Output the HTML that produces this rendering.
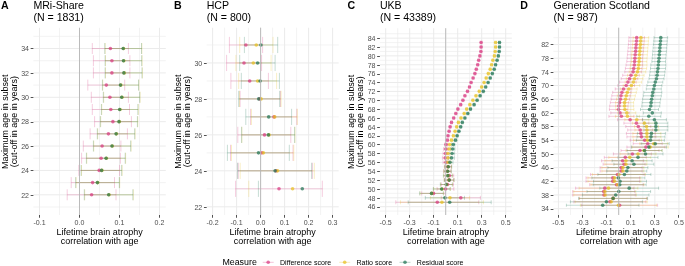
<!DOCTYPE html>
<html><head><meta charset="utf-8"><style>
html,body{margin:0;padding:0;background:#fff;width:685px;height:266px;overflow:hidden}
svg{will-change:transform}
text{font-family:"Liberation Sans", sans-serif}
</style></head><body>
<svg width="685" height="266" viewBox="0 0 685 266" style="position:absolute;left:0;top:0"><rect width="685" height="266" fill="#fff"/><g font-family='"Liberation Sans", sans-serif'><line x1="59.50" y1="27.80" x2="59.50" y2="215.00" stroke="#EBEBEB" stroke-width="0.6"/><line x1="99.50" y1="27.80" x2="99.50" y2="215.00" stroke="#EBEBEB" stroke-width="0.6"/><line x1="139.50" y1="27.80" x2="139.50" y2="215.00" stroke="#EBEBEB" stroke-width="0.6"/><line x1="33.40" y1="206.99" x2="165.80" y2="206.99" stroke="#EBEBEB" stroke-width="0.6"/><line x1="33.40" y1="182.61" x2="165.80" y2="182.61" stroke="#EBEBEB" stroke-width="0.6"/><line x1="33.40" y1="158.23" x2="165.80" y2="158.23" stroke="#EBEBEB" stroke-width="0.6"/><line x1="33.40" y1="133.85" x2="165.80" y2="133.85" stroke="#EBEBEB" stroke-width="0.6"/><line x1="33.40" y1="109.47" x2="165.80" y2="109.47" stroke="#EBEBEB" stroke-width="0.6"/><line x1="33.40" y1="85.09" x2="165.80" y2="85.09" stroke="#EBEBEB" stroke-width="0.6"/><line x1="33.40" y1="60.71" x2="165.80" y2="60.71" stroke="#EBEBEB" stroke-width="0.6"/><line x1="33.40" y1="36.33" x2="165.80" y2="36.33" stroke="#EBEBEB" stroke-width="0.6"/><line x1="39.50" y1="27.80" x2="39.50" y2="215.00" stroke="#EBEBEB" stroke-width="1.0"/><line x1="79.50" y1="27.80" x2="79.50" y2="215.00" stroke="#EBEBEB" stroke-width="1.0"/><line x1="119.50" y1="27.80" x2="119.50" y2="215.00" stroke="#EBEBEB" stroke-width="1.0"/><line x1="159.50" y1="27.80" x2="159.50" y2="215.00" stroke="#EBEBEB" stroke-width="1.0"/><line x1="33.40" y1="194.80" x2="165.80" y2="194.80" stroke="#EBEBEB" stroke-width="1.0"/><line x1="33.40" y1="170.42" x2="165.80" y2="170.42" stroke="#EBEBEB" stroke-width="1.0"/><line x1="33.40" y1="146.04" x2="165.80" y2="146.04" stroke="#EBEBEB" stroke-width="1.0"/><line x1="33.40" y1="121.66" x2="165.80" y2="121.66" stroke="#EBEBEB" stroke-width="1.0"/><line x1="33.40" y1="97.28" x2="165.80" y2="97.28" stroke="#EBEBEB" stroke-width="1.0"/><line x1="33.40" y1="72.90" x2="165.80" y2="72.90" stroke="#EBEBEB" stroke-width="1.0"/><line x1="33.40" y1="48.52" x2="165.80" y2="48.52" stroke="#EBEBEB" stroke-width="1.0"/><line x1="39.50" y1="215.00" x2="39.50" y2="217.75" stroke="#333" stroke-width="0.85"/><text x="39.50" y="224.60" font-size="7.05" fill="#4D4D4D" font-weight="normal" text-anchor="middle">-0.1</text><line x1="79.50" y1="215.00" x2="79.50" y2="217.75" stroke="#333" stroke-width="0.85"/><text x="79.50" y="224.60" font-size="7.05" fill="#4D4D4D" font-weight="normal" text-anchor="middle">0.0</text><line x1="119.50" y1="215.00" x2="119.50" y2="217.75" stroke="#333" stroke-width="0.85"/><text x="119.50" y="224.60" font-size="7.05" fill="#4D4D4D" font-weight="normal" text-anchor="middle">0.1</text><line x1="159.50" y1="215.00" x2="159.50" y2="217.75" stroke="#333" stroke-width="0.85"/><text x="159.50" y="224.60" font-size="7.05" fill="#4D4D4D" font-weight="normal" text-anchor="middle">0.2</text><line x1="30.65" y1="195.50" x2="33.40" y2="195.50" stroke="#333" stroke-width="0.85"/><text x="29.00" y="197.55" font-size="7.05" fill="#4D4D4D" font-weight="normal" text-anchor="end">22</text><line x1="30.65" y1="170.50" x2="33.40" y2="170.50" stroke="#333" stroke-width="0.85"/><text x="29.00" y="173.17" font-size="7.05" fill="#4D4D4D" font-weight="normal" text-anchor="end">24</text><line x1="30.65" y1="146.50" x2="33.40" y2="146.50" stroke="#333" stroke-width="0.85"/><text x="29.00" y="148.79" font-size="7.05" fill="#4D4D4D" font-weight="normal" text-anchor="end">26</text><line x1="30.65" y1="122.50" x2="33.40" y2="122.50" stroke="#333" stroke-width="0.85"/><text x="29.00" y="124.41" font-size="7.05" fill="#4D4D4D" font-weight="normal" text-anchor="end">28</text><line x1="30.65" y1="97.50" x2="33.40" y2="97.50" stroke="#333" stroke-width="0.85"/><text x="29.00" y="100.03" font-size="7.05" fill="#4D4D4D" font-weight="normal" text-anchor="end">30</text><line x1="30.65" y1="73.50" x2="33.40" y2="73.50" stroke="#333" stroke-width="0.85"/><text x="29.00" y="75.65" font-size="7.05" fill="#4D4D4D" font-weight="normal" text-anchor="end">32</text><line x1="30.65" y1="48.50" x2="33.40" y2="48.50" stroke="#333" stroke-width="0.85"/><text x="29.00" y="51.27" font-size="7.05" fill="#4D4D4D" font-weight="normal" text-anchor="end">34</text><text x="1.10" y="9.05" font-size="10.6" fill="#000" font-weight="bold" text-anchor="start">A</text><text x="33.40" y="9.00" font-size="10.6" fill="#000" font-weight="normal" text-anchor="start">MRi-Share</text><text x="33.40" y="20.75" font-size="10.6" fill="#000" font-weight="normal" text-anchor="start">(N = 1831)</text><text x="99.60" y="234.80" font-size="8.98" fill="#000" font-weight="normal" text-anchor="middle">Lifetime brain atrophy</text><text x="99.60" y="244.20" font-size="8.98" fill="#000" font-weight="normal" text-anchor="middle">correlation with age</text><text transform="translate(7.90,121.70) rotate(-90)" font-size="8.95" text-anchor="middle">Maximum age in subset</text><text transform="translate(17.30,121.70) rotate(-90)" font-size="8.95" text-anchor="middle">(cut-off in age in years)</text><line x1="224.60" y1="27.70" x2="224.60" y2="215.00" stroke="#EBEBEB" stroke-width="0.6"/><line x1="248.60" y1="27.70" x2="248.60" y2="215.00" stroke="#EBEBEB" stroke-width="0.6"/><line x1="272.60" y1="27.70" x2="272.60" y2="215.00" stroke="#EBEBEB" stroke-width="0.6"/><line x1="296.60" y1="27.70" x2="296.60" y2="215.00" stroke="#EBEBEB" stroke-width="0.6"/><line x1="320.60" y1="27.70" x2="320.60" y2="215.00" stroke="#EBEBEB" stroke-width="0.6"/><line x1="206.70" y1="188.82" x2="338.70" y2="188.82" stroke="#EBEBEB" stroke-width="0.6"/><line x1="206.70" y1="152.86" x2="338.70" y2="152.86" stroke="#EBEBEB" stroke-width="0.6"/><line x1="206.70" y1="116.90" x2="338.70" y2="116.90" stroke="#EBEBEB" stroke-width="0.6"/><line x1="206.70" y1="80.94" x2="338.70" y2="80.94" stroke="#EBEBEB" stroke-width="0.6"/><line x1="206.70" y1="44.98" x2="338.70" y2="44.98" stroke="#EBEBEB" stroke-width="0.6"/><line x1="212.60" y1="27.70" x2="212.60" y2="215.00" stroke="#EBEBEB" stroke-width="1.0"/><line x1="236.60" y1="27.70" x2="236.60" y2="215.00" stroke="#EBEBEB" stroke-width="1.0"/><line x1="260.60" y1="27.70" x2="260.60" y2="215.00" stroke="#EBEBEB" stroke-width="1.0"/><line x1="284.60" y1="27.70" x2="284.60" y2="215.00" stroke="#EBEBEB" stroke-width="1.0"/><line x1="308.60" y1="27.70" x2="308.60" y2="215.00" stroke="#EBEBEB" stroke-width="1.0"/><line x1="332.60" y1="27.70" x2="332.60" y2="215.00" stroke="#EBEBEB" stroke-width="1.0"/><line x1="206.70" y1="206.80" x2="338.70" y2="206.80" stroke="#EBEBEB" stroke-width="1.0"/><line x1="206.70" y1="170.84" x2="338.70" y2="170.84" stroke="#EBEBEB" stroke-width="1.0"/><line x1="206.70" y1="134.88" x2="338.70" y2="134.88" stroke="#EBEBEB" stroke-width="1.0"/><line x1="206.70" y1="98.92" x2="338.70" y2="98.92" stroke="#EBEBEB" stroke-width="1.0"/><line x1="206.70" y1="62.96" x2="338.70" y2="62.96" stroke="#EBEBEB" stroke-width="1.0"/><line x1="212.50" y1="215.00" x2="212.50" y2="217.75" stroke="#333" stroke-width="0.85"/><text x="212.60" y="224.60" font-size="7.05" fill="#4D4D4D" font-weight="normal" text-anchor="middle">-0.2</text><line x1="236.50" y1="215.00" x2="236.50" y2="217.75" stroke="#333" stroke-width="0.85"/><text x="236.60" y="224.60" font-size="7.05" fill="#4D4D4D" font-weight="normal" text-anchor="middle">-0.1</text><line x1="260.50" y1="215.00" x2="260.50" y2="217.75" stroke="#333" stroke-width="0.85"/><text x="260.60" y="224.60" font-size="7.05" fill="#4D4D4D" font-weight="normal" text-anchor="middle">0.0</text><line x1="284.50" y1="215.00" x2="284.50" y2="217.75" stroke="#333" stroke-width="0.85"/><text x="284.60" y="224.60" font-size="7.05" fill="#4D4D4D" font-weight="normal" text-anchor="middle">0.1</text><line x1="308.50" y1="215.00" x2="308.50" y2="217.75" stroke="#333" stroke-width="0.85"/><text x="308.60" y="224.60" font-size="7.05" fill="#4D4D4D" font-weight="normal" text-anchor="middle">0.2</text><line x1="332.50" y1="215.00" x2="332.50" y2="217.75" stroke="#333" stroke-width="0.85"/><text x="332.60" y="224.60" font-size="7.05" fill="#4D4D4D" font-weight="normal" text-anchor="middle">0.3</text><line x1="203.95" y1="207.50" x2="206.70" y2="207.50" stroke="#333" stroke-width="0.85"/><text x="202.30" y="209.55" font-size="7.05" fill="#4D4D4D" font-weight="normal" text-anchor="end">22</text><line x1="203.95" y1="171.50" x2="206.70" y2="171.50" stroke="#333" stroke-width="0.85"/><text x="202.30" y="173.59" font-size="7.05" fill="#4D4D4D" font-weight="normal" text-anchor="end">24</text><line x1="203.95" y1="135.50" x2="206.70" y2="135.50" stroke="#333" stroke-width="0.85"/><text x="202.30" y="137.63" font-size="7.05" fill="#4D4D4D" font-weight="normal" text-anchor="end">26</text><line x1="203.95" y1="99.50" x2="206.70" y2="99.50" stroke="#333" stroke-width="0.85"/><text x="202.30" y="101.67" font-size="7.05" fill="#4D4D4D" font-weight="normal" text-anchor="end">28</text><line x1="203.95" y1="63.50" x2="206.70" y2="63.50" stroke="#333" stroke-width="0.85"/><text x="202.30" y="65.71" font-size="7.05" fill="#4D4D4D" font-weight="normal" text-anchor="end">30</text><text x="174.10" y="9.05" font-size="10.6" fill="#000" font-weight="bold" text-anchor="start">B</text><text x="206.70" y="9.00" font-size="10.6" fill="#000" font-weight="normal" text-anchor="start">HCP</text><text x="206.70" y="20.75" font-size="10.6" fill="#000" font-weight="normal" text-anchor="start">(N = 800)</text><text x="272.70" y="234.80" font-size="8.98" fill="#000" font-weight="normal" text-anchor="middle">Lifetime brain atrophy</text><text x="272.70" y="244.20" font-size="8.98" fill="#000" font-weight="normal" text-anchor="middle">correlation with age</text><text transform="translate(180.90,121.65) rotate(-90)" font-size="8.95" text-anchor="middle">Maximum age in subset</text><text transform="translate(190.30,121.65) rotate(-90)" font-size="8.95" text-anchor="middle">(cut-off in age in years)</text><line x1="397.70" y1="28.20" x2="397.70" y2="215.00" stroke="#EBEBEB" stroke-width="0.6"/><line x1="421.70" y1="28.20" x2="421.70" y2="215.00" stroke="#EBEBEB" stroke-width="0.6"/><line x1="445.70" y1="28.20" x2="445.70" y2="215.00" stroke="#EBEBEB" stroke-width="0.6"/><line x1="469.70" y1="28.20" x2="469.70" y2="215.00" stroke="#EBEBEB" stroke-width="0.6"/><line x1="493.70" y1="28.20" x2="493.70" y2="215.00" stroke="#EBEBEB" stroke-width="0.6"/><line x1="379.90" y1="211.14" x2="511.90" y2="211.14" stroke="#EBEBEB" stroke-width="0.6"/><line x1="379.90" y1="202.26" x2="511.90" y2="202.26" stroke="#EBEBEB" stroke-width="0.6"/><line x1="379.90" y1="193.39" x2="511.90" y2="193.39" stroke="#EBEBEB" stroke-width="0.6"/><line x1="379.90" y1="184.52" x2="511.90" y2="184.52" stroke="#EBEBEB" stroke-width="0.6"/><line x1="379.90" y1="175.65" x2="511.90" y2="175.65" stroke="#EBEBEB" stroke-width="0.6"/><line x1="379.90" y1="166.78" x2="511.90" y2="166.78" stroke="#EBEBEB" stroke-width="0.6"/><line x1="379.90" y1="157.90" x2="511.90" y2="157.90" stroke="#EBEBEB" stroke-width="0.6"/><line x1="379.90" y1="149.03" x2="511.90" y2="149.03" stroke="#EBEBEB" stroke-width="0.6"/><line x1="379.90" y1="140.16" x2="511.90" y2="140.16" stroke="#EBEBEB" stroke-width="0.6"/><line x1="379.90" y1="131.29" x2="511.90" y2="131.29" stroke="#EBEBEB" stroke-width="0.6"/><line x1="379.90" y1="122.42" x2="511.90" y2="122.42" stroke="#EBEBEB" stroke-width="0.6"/><line x1="379.90" y1="113.54" x2="511.90" y2="113.54" stroke="#EBEBEB" stroke-width="0.6"/><line x1="379.90" y1="104.67" x2="511.90" y2="104.67" stroke="#EBEBEB" stroke-width="0.6"/><line x1="379.90" y1="95.80" x2="511.90" y2="95.80" stroke="#EBEBEB" stroke-width="0.6"/><line x1="379.90" y1="86.93" x2="511.90" y2="86.93" stroke="#EBEBEB" stroke-width="0.6"/><line x1="379.90" y1="78.06" x2="511.90" y2="78.06" stroke="#EBEBEB" stroke-width="0.6"/><line x1="379.90" y1="69.18" x2="511.90" y2="69.18" stroke="#EBEBEB" stroke-width="0.6"/><line x1="379.90" y1="60.31" x2="511.90" y2="60.31" stroke="#EBEBEB" stroke-width="0.6"/><line x1="379.90" y1="51.44" x2="511.90" y2="51.44" stroke="#EBEBEB" stroke-width="0.6"/><line x1="379.90" y1="42.57" x2="511.90" y2="42.57" stroke="#EBEBEB" stroke-width="0.6"/><line x1="379.90" y1="33.70" x2="511.90" y2="33.70" stroke="#EBEBEB" stroke-width="0.6"/><line x1="385.70" y1="28.20" x2="385.70" y2="215.00" stroke="#EBEBEB" stroke-width="1.0"/><line x1="409.70" y1="28.20" x2="409.70" y2="215.00" stroke="#EBEBEB" stroke-width="1.0"/><line x1="433.70" y1="28.20" x2="433.70" y2="215.00" stroke="#EBEBEB" stroke-width="1.0"/><line x1="457.70" y1="28.20" x2="457.70" y2="215.00" stroke="#EBEBEB" stroke-width="1.0"/><line x1="481.70" y1="28.20" x2="481.70" y2="215.00" stroke="#EBEBEB" stroke-width="1.0"/><line x1="505.70" y1="28.20" x2="505.70" y2="215.00" stroke="#EBEBEB" stroke-width="1.0"/><line x1="379.90" y1="206.70" x2="511.90" y2="206.70" stroke="#EBEBEB" stroke-width="1.0"/><line x1="379.90" y1="197.83" x2="511.90" y2="197.83" stroke="#EBEBEB" stroke-width="1.0"/><line x1="379.90" y1="188.96" x2="511.90" y2="188.96" stroke="#EBEBEB" stroke-width="1.0"/><line x1="379.90" y1="180.08" x2="511.90" y2="180.08" stroke="#EBEBEB" stroke-width="1.0"/><line x1="379.90" y1="171.21" x2="511.90" y2="171.21" stroke="#EBEBEB" stroke-width="1.0"/><line x1="379.90" y1="162.34" x2="511.90" y2="162.34" stroke="#EBEBEB" stroke-width="1.0"/><line x1="379.90" y1="153.47" x2="511.90" y2="153.47" stroke="#EBEBEB" stroke-width="1.0"/><line x1="379.90" y1="144.60" x2="511.90" y2="144.60" stroke="#EBEBEB" stroke-width="1.0"/><line x1="379.90" y1="135.72" x2="511.90" y2="135.72" stroke="#EBEBEB" stroke-width="1.0"/><line x1="379.90" y1="126.85" x2="511.90" y2="126.85" stroke="#EBEBEB" stroke-width="1.0"/><line x1="379.90" y1="117.98" x2="511.90" y2="117.98" stroke="#EBEBEB" stroke-width="1.0"/><line x1="379.90" y1="109.11" x2="511.90" y2="109.11" stroke="#EBEBEB" stroke-width="1.0"/><line x1="379.90" y1="100.24" x2="511.90" y2="100.24" stroke="#EBEBEB" stroke-width="1.0"/><line x1="379.90" y1="91.36" x2="511.90" y2="91.36" stroke="#EBEBEB" stroke-width="1.0"/><line x1="379.90" y1="82.49" x2="511.90" y2="82.49" stroke="#EBEBEB" stroke-width="1.0"/><line x1="379.90" y1="73.62" x2="511.90" y2="73.62" stroke="#EBEBEB" stroke-width="1.0"/><line x1="379.90" y1="64.75" x2="511.90" y2="64.75" stroke="#EBEBEB" stroke-width="1.0"/><line x1="379.90" y1="55.88" x2="511.90" y2="55.88" stroke="#EBEBEB" stroke-width="1.0"/><line x1="379.90" y1="47.00" x2="511.90" y2="47.00" stroke="#EBEBEB" stroke-width="1.0"/><line x1="379.90" y1="38.13" x2="511.90" y2="38.13" stroke="#EBEBEB" stroke-width="1.0"/><line x1="385.50" y1="215.00" x2="385.50" y2="217.75" stroke="#333" stroke-width="0.85"/><text x="385.70" y="224.60" font-size="7.05" fill="#4D4D4D" font-weight="normal" text-anchor="middle">-0.5</text><line x1="409.50" y1="215.00" x2="409.50" y2="217.75" stroke="#333" stroke-width="0.85"/><text x="409.70" y="224.60" font-size="7.05" fill="#4D4D4D" font-weight="normal" text-anchor="middle">-0.3</text><line x1="433.50" y1="215.00" x2="433.50" y2="217.75" stroke="#333" stroke-width="0.85"/><text x="433.70" y="224.60" font-size="7.05" fill="#4D4D4D" font-weight="normal" text-anchor="middle">-0.1</text><line x1="457.50" y1="215.00" x2="457.50" y2="217.75" stroke="#333" stroke-width="0.85"/><text x="457.70" y="224.60" font-size="7.05" fill="#4D4D4D" font-weight="normal" text-anchor="middle">0.1</text><line x1="481.50" y1="215.00" x2="481.50" y2="217.75" stroke="#333" stroke-width="0.85"/><text x="481.70" y="224.60" font-size="7.05" fill="#4D4D4D" font-weight="normal" text-anchor="middle">0.3</text><line x1="505.50" y1="215.00" x2="505.50" y2="217.75" stroke="#333" stroke-width="0.85"/><text x="505.70" y="224.60" font-size="7.05" fill="#4D4D4D" font-weight="normal" text-anchor="middle">0.5</text><line x1="377.15" y1="207.50" x2="379.90" y2="207.50" stroke="#333" stroke-width="0.85"/><text x="375.50" y="209.45" font-size="7.05" fill="#4D4D4D" font-weight="normal" text-anchor="end">46</text><line x1="377.15" y1="198.50" x2="379.90" y2="198.50" stroke="#333" stroke-width="0.85"/><text x="375.50" y="200.58" font-size="7.05" fill="#4D4D4D" font-weight="normal" text-anchor="end">48</text><line x1="377.15" y1="189.50" x2="379.90" y2="189.50" stroke="#333" stroke-width="0.85"/><text x="375.50" y="191.71" font-size="7.05" fill="#4D4D4D" font-weight="normal" text-anchor="end">50</text><line x1="377.15" y1="180.50" x2="379.90" y2="180.50" stroke="#333" stroke-width="0.85"/><text x="375.50" y="182.83" font-size="7.05" fill="#4D4D4D" font-weight="normal" text-anchor="end">52</text><line x1="377.15" y1="171.50" x2="379.90" y2="171.50" stroke="#333" stroke-width="0.85"/><text x="375.50" y="173.96" font-size="7.05" fill="#4D4D4D" font-weight="normal" text-anchor="end">54</text><line x1="377.15" y1="162.50" x2="379.90" y2="162.50" stroke="#333" stroke-width="0.85"/><text x="375.50" y="165.09" font-size="7.05" fill="#4D4D4D" font-weight="normal" text-anchor="end">56</text><line x1="377.15" y1="153.50" x2="379.90" y2="153.50" stroke="#333" stroke-width="0.85"/><text x="375.50" y="156.22" font-size="7.05" fill="#4D4D4D" font-weight="normal" text-anchor="end">58</text><line x1="377.15" y1="144.50" x2="379.90" y2="144.50" stroke="#333" stroke-width="0.85"/><text x="375.50" y="147.35" font-size="7.05" fill="#4D4D4D" font-weight="normal" text-anchor="end">60</text><line x1="377.15" y1="136.50" x2="379.90" y2="136.50" stroke="#333" stroke-width="0.85"/><text x="375.50" y="138.47" font-size="7.05" fill="#4D4D4D" font-weight="normal" text-anchor="end">62</text><line x1="377.15" y1="127.50" x2="379.90" y2="127.50" stroke="#333" stroke-width="0.85"/><text x="375.50" y="129.60" font-size="7.05" fill="#4D4D4D" font-weight="normal" text-anchor="end">64</text><line x1="377.15" y1="118.50" x2="379.90" y2="118.50" stroke="#333" stroke-width="0.85"/><text x="375.50" y="120.73" font-size="7.05" fill="#4D4D4D" font-weight="normal" text-anchor="end">66</text><line x1="377.15" y1="109.50" x2="379.90" y2="109.50" stroke="#333" stroke-width="0.85"/><text x="375.50" y="111.86" font-size="7.05" fill="#4D4D4D" font-weight="normal" text-anchor="end">68</text><line x1="377.15" y1="100.50" x2="379.90" y2="100.50" stroke="#333" stroke-width="0.85"/><text x="375.50" y="102.99" font-size="7.05" fill="#4D4D4D" font-weight="normal" text-anchor="end">70</text><line x1="377.15" y1="91.50" x2="379.90" y2="91.50" stroke="#333" stroke-width="0.85"/><text x="375.50" y="94.11" font-size="7.05" fill="#4D4D4D" font-weight="normal" text-anchor="end">72</text><line x1="377.15" y1="82.50" x2="379.90" y2="82.50" stroke="#333" stroke-width="0.85"/><text x="375.50" y="85.24" font-size="7.05" fill="#4D4D4D" font-weight="normal" text-anchor="end">74</text><line x1="377.15" y1="74.50" x2="379.90" y2="74.50" stroke="#333" stroke-width="0.85"/><text x="375.50" y="76.37" font-size="7.05" fill="#4D4D4D" font-weight="normal" text-anchor="end">76</text><line x1="377.15" y1="65.50" x2="379.90" y2="65.50" stroke="#333" stroke-width="0.85"/><text x="375.50" y="67.50" font-size="7.05" fill="#4D4D4D" font-weight="normal" text-anchor="end">78</text><line x1="377.15" y1="56.50" x2="379.90" y2="56.50" stroke="#333" stroke-width="0.85"/><text x="375.50" y="58.63" font-size="7.05" fill="#4D4D4D" font-weight="normal" text-anchor="end">80</text><line x1="377.15" y1="47.50" x2="379.90" y2="47.50" stroke="#333" stroke-width="0.85"/><text x="375.50" y="49.75" font-size="7.05" fill="#4D4D4D" font-weight="normal" text-anchor="end">82</text><line x1="377.15" y1="38.50" x2="379.90" y2="38.50" stroke="#333" stroke-width="0.85"/><text x="375.50" y="40.88" font-size="7.05" fill="#4D4D4D" font-weight="normal" text-anchor="end">84</text><text x="347.40" y="9.05" font-size="10.6" fill="#000" font-weight="bold" text-anchor="start">C</text><text x="379.90" y="9.00" font-size="10.6" fill="#000" font-weight="normal" text-anchor="start">UKB</text><text x="379.90" y="20.75" font-size="10.6" fill="#000" font-weight="normal" text-anchor="start">(N = 43389)</text><text x="445.90" y="234.80" font-size="8.98" fill="#000" font-weight="normal" text-anchor="middle">Lifetime brain atrophy</text><text x="445.90" y="244.20" font-size="8.98" fill="#000" font-weight="normal" text-anchor="middle">correlation with age</text><text transform="translate(353.60,121.90) rotate(-90)" font-size="8.95" text-anchor="middle">Maximum age in subset</text><text transform="translate(363.00,121.90) rotate(-90)" font-size="8.95" text-anchor="middle">(cut-off in age in years)</text><line x1="570.50" y1="27.70" x2="570.50" y2="215.00" stroke="#EBEBEB" stroke-width="0.6"/><line x1="594.60" y1="27.70" x2="594.60" y2="215.00" stroke="#EBEBEB" stroke-width="0.6"/><line x1="618.70" y1="27.70" x2="618.70" y2="215.00" stroke="#EBEBEB" stroke-width="0.6"/><line x1="642.80" y1="27.70" x2="642.80" y2="215.00" stroke="#EBEBEB" stroke-width="0.6"/><line x1="666.90" y1="27.70" x2="666.90" y2="215.00" stroke="#EBEBEB" stroke-width="0.6"/><line x1="553.40" y1="201.82" x2="684.60" y2="201.82" stroke="#EBEBEB" stroke-width="0.6"/><line x1="553.40" y1="188.14" x2="684.60" y2="188.14" stroke="#EBEBEB" stroke-width="0.6"/><line x1="553.40" y1="174.46" x2="684.60" y2="174.46" stroke="#EBEBEB" stroke-width="0.6"/><line x1="553.40" y1="160.78" x2="684.60" y2="160.78" stroke="#EBEBEB" stroke-width="0.6"/><line x1="553.40" y1="147.10" x2="684.60" y2="147.10" stroke="#EBEBEB" stroke-width="0.6"/><line x1="553.40" y1="133.42" x2="684.60" y2="133.42" stroke="#EBEBEB" stroke-width="0.6"/><line x1="553.40" y1="119.74" x2="684.60" y2="119.74" stroke="#EBEBEB" stroke-width="0.6"/><line x1="553.40" y1="106.06" x2="684.60" y2="106.06" stroke="#EBEBEB" stroke-width="0.6"/><line x1="553.40" y1="92.38" x2="684.60" y2="92.38" stroke="#EBEBEB" stroke-width="0.6"/><line x1="553.40" y1="78.70" x2="684.60" y2="78.70" stroke="#EBEBEB" stroke-width="0.6"/><line x1="553.40" y1="65.02" x2="684.60" y2="65.02" stroke="#EBEBEB" stroke-width="0.6"/><line x1="553.40" y1="51.34" x2="684.60" y2="51.34" stroke="#EBEBEB" stroke-width="0.6"/><line x1="553.40" y1="37.66" x2="684.60" y2="37.66" stroke="#EBEBEB" stroke-width="0.6"/><line x1="558.45" y1="27.70" x2="558.45" y2="215.00" stroke="#EBEBEB" stroke-width="1.0"/><line x1="582.55" y1="27.70" x2="582.55" y2="215.00" stroke="#EBEBEB" stroke-width="1.0"/><line x1="606.65" y1="27.70" x2="606.65" y2="215.00" stroke="#EBEBEB" stroke-width="1.0"/><line x1="630.75" y1="27.70" x2="630.75" y2="215.00" stroke="#EBEBEB" stroke-width="1.0"/><line x1="654.85" y1="27.70" x2="654.85" y2="215.00" stroke="#EBEBEB" stroke-width="1.0"/><line x1="678.95" y1="27.70" x2="678.95" y2="215.00" stroke="#EBEBEB" stroke-width="1.0"/><line x1="553.40" y1="208.66" x2="684.60" y2="208.66" stroke="#EBEBEB" stroke-width="1.0"/><line x1="553.40" y1="194.98" x2="684.60" y2="194.98" stroke="#EBEBEB" stroke-width="1.0"/><line x1="553.40" y1="181.30" x2="684.60" y2="181.30" stroke="#EBEBEB" stroke-width="1.0"/><line x1="553.40" y1="167.62" x2="684.60" y2="167.62" stroke="#EBEBEB" stroke-width="1.0"/><line x1="553.40" y1="153.94" x2="684.60" y2="153.94" stroke="#EBEBEB" stroke-width="1.0"/><line x1="553.40" y1="140.26" x2="684.60" y2="140.26" stroke="#EBEBEB" stroke-width="1.0"/><line x1="553.40" y1="126.58" x2="684.60" y2="126.58" stroke="#EBEBEB" stroke-width="1.0"/><line x1="553.40" y1="112.90" x2="684.60" y2="112.90" stroke="#EBEBEB" stroke-width="1.0"/><line x1="553.40" y1="99.22" x2="684.60" y2="99.22" stroke="#EBEBEB" stroke-width="1.0"/><line x1="553.40" y1="85.54" x2="684.60" y2="85.54" stroke="#EBEBEB" stroke-width="1.0"/><line x1="553.40" y1="71.86" x2="684.60" y2="71.86" stroke="#EBEBEB" stroke-width="1.0"/><line x1="553.40" y1="58.18" x2="684.60" y2="58.18" stroke="#EBEBEB" stroke-width="1.0"/><line x1="553.40" y1="44.50" x2="684.60" y2="44.50" stroke="#EBEBEB" stroke-width="1.0"/><line x1="558.50" y1="215.00" x2="558.50" y2="217.75" stroke="#333" stroke-width="0.85"/><text x="558.45" y="224.60" font-size="7.05" fill="#4D4D4D" font-weight="normal" text-anchor="middle">-0.5</text><line x1="582.50" y1="215.00" x2="582.50" y2="217.75" stroke="#333" stroke-width="0.85"/><text x="582.55" y="224.60" font-size="7.05" fill="#4D4D4D" font-weight="normal" text-anchor="middle">-0.3</text><line x1="606.50" y1="215.00" x2="606.50" y2="217.75" stroke="#333" stroke-width="0.85"/><text x="606.65" y="224.60" font-size="7.05" fill="#4D4D4D" font-weight="normal" text-anchor="middle">-0.1</text><line x1="630.50" y1="215.00" x2="630.50" y2="217.75" stroke="#333" stroke-width="0.85"/><text x="630.75" y="224.60" font-size="7.05" fill="#4D4D4D" font-weight="normal" text-anchor="middle">0.1</text><line x1="654.50" y1="215.00" x2="654.50" y2="217.75" stroke="#333" stroke-width="0.85"/><text x="654.85" y="224.60" font-size="7.05" fill="#4D4D4D" font-weight="normal" text-anchor="middle">0.3</text><line x1="678.50" y1="215.00" x2="678.50" y2="217.75" stroke="#333" stroke-width="0.85"/><text x="678.95" y="224.60" font-size="7.05" fill="#4D4D4D" font-weight="normal" text-anchor="middle">0.5</text><line x1="550.65" y1="209.50" x2="553.40" y2="209.50" stroke="#333" stroke-width="0.85"/><text x="549.00" y="211.41" font-size="7.05" fill="#4D4D4D" font-weight="normal" text-anchor="end">34</text><line x1="550.65" y1="195.50" x2="553.40" y2="195.50" stroke="#333" stroke-width="0.85"/><text x="549.00" y="197.73" font-size="7.05" fill="#4D4D4D" font-weight="normal" text-anchor="end">38</text><line x1="550.65" y1="181.50" x2="553.40" y2="181.50" stroke="#333" stroke-width="0.85"/><text x="549.00" y="184.05" font-size="7.05" fill="#4D4D4D" font-weight="normal" text-anchor="end">42</text><line x1="550.65" y1="168.50" x2="553.40" y2="168.50" stroke="#333" stroke-width="0.85"/><text x="549.00" y="170.37" font-size="7.05" fill="#4D4D4D" font-weight="normal" text-anchor="end">46</text><line x1="550.65" y1="154.50" x2="553.40" y2="154.50" stroke="#333" stroke-width="0.85"/><text x="549.00" y="156.69" font-size="7.05" fill="#4D4D4D" font-weight="normal" text-anchor="end">50</text><line x1="550.65" y1="140.50" x2="553.40" y2="140.50" stroke="#333" stroke-width="0.85"/><text x="549.00" y="143.01" font-size="7.05" fill="#4D4D4D" font-weight="normal" text-anchor="end">54</text><line x1="550.65" y1="126.50" x2="553.40" y2="126.50" stroke="#333" stroke-width="0.85"/><text x="549.00" y="129.33" font-size="7.05" fill="#4D4D4D" font-weight="normal" text-anchor="end">58</text><line x1="550.65" y1="113.50" x2="553.40" y2="113.50" stroke="#333" stroke-width="0.85"/><text x="549.00" y="115.65" font-size="7.05" fill="#4D4D4D" font-weight="normal" text-anchor="end">62</text><line x1="550.65" y1="99.50" x2="553.40" y2="99.50" stroke="#333" stroke-width="0.85"/><text x="549.00" y="101.97" font-size="7.05" fill="#4D4D4D" font-weight="normal" text-anchor="end">66</text><line x1="550.65" y1="85.50" x2="553.40" y2="85.50" stroke="#333" stroke-width="0.85"/><text x="549.00" y="88.29" font-size="7.05" fill="#4D4D4D" font-weight="normal" text-anchor="end">70</text><line x1="550.65" y1="72.50" x2="553.40" y2="72.50" stroke="#333" stroke-width="0.85"/><text x="549.00" y="74.61" font-size="7.05" fill="#4D4D4D" font-weight="normal" text-anchor="end">74</text><line x1="550.65" y1="58.50" x2="553.40" y2="58.50" stroke="#333" stroke-width="0.85"/><text x="549.00" y="60.93" font-size="7.05" fill="#4D4D4D" font-weight="normal" text-anchor="end">78</text><line x1="550.65" y1="44.50" x2="553.40" y2="44.50" stroke="#333" stroke-width="0.85"/><text x="549.00" y="47.25" font-size="7.05" fill="#4D4D4D" font-weight="normal" text-anchor="end">82</text><text x="520.30" y="9.05" font-size="10.6" fill="#000" font-weight="bold" text-anchor="start">D</text><text x="553.40" y="9.00" font-size="10.6" fill="#000" font-weight="normal" text-anchor="start">Generation Scotland</text><text x="553.40" y="20.75" font-size="10.6" fill="#000" font-weight="normal" text-anchor="start">(N = 987)</text><text x="619.00" y="234.80" font-size="8.98" fill="#000" font-weight="normal" text-anchor="middle">Lifetime brain atrophy</text><text x="619.00" y="244.20" font-size="8.98" fill="#000" font-weight="normal" text-anchor="middle">correlation with age</text><text transform="translate(526.60,121.65) rotate(-90)" font-size="8.95" text-anchor="middle">Maximum age in subset</text><text transform="translate(536.00,121.65) rotate(-90)" font-size="8.95" text-anchor="middle">(cut-off in age in years)</text><g><g stroke="#D8337E" stroke-opacity="0.33" stroke-width="0.75" fill="none"><path d="M92.30 48.52H128.40"/><path d="M92.30 43.03V54.01"/><path d="M128.40 43.03V54.01"/><path d="M93.40 60.71H129.90"/><path d="M93.40 55.22V66.20"/><path d="M129.90 55.22V66.20"/><path d="M93.40 72.90H129.90"/><path d="M93.40 67.41V78.39"/><path d="M129.90 67.41V78.39"/><path d="M87.80 85.09H124.70"/><path d="M87.80 79.60V90.58"/><path d="M124.70 79.60V90.58"/><path d="M91.30 97.28H128.40"/><path d="M91.30 91.79V102.77"/><path d="M128.40 91.79V102.77"/><path d="M92.30 109.47H129.50"/><path d="M92.30 103.98V114.96"/><path d="M129.50 103.98V114.96"/><path d="M94.60 121.66H131.40"/><path d="M94.60 116.17V127.15"/><path d="M131.40 116.17V127.15"/><path d="M90.10 133.85H127.40"/><path d="M90.10 128.36V139.34"/><path d="M127.40 128.36V139.34"/><path d="M83.30 146.04H120.90"/><path d="M83.30 140.55V151.53"/><path d="M120.90 140.55V151.53"/><path d="M81.60 158.23H120.40"/><path d="M81.60 152.74V163.72"/><path d="M120.40 152.74V163.72"/><path d="M78.90 170.42H119.60"/><path d="M78.90 164.93V175.91"/><path d="M119.60 164.93V175.91"/><path d="M71.20 182.61H114.50"/><path d="M71.20 177.12V188.10"/><path d="M114.50 177.12V188.10"/><path d="M67.20 194.80H116.00"/><path d="M67.20 189.31V200.29"/><path d="M116.00 189.31V200.29"/></g><g stroke="#E7BF1A" stroke-opacity="0.33" stroke-width="0.75" fill="none"><path d="M105.20 48.52H141.90"/><path d="M105.20 43.03V54.01"/><path d="M141.90 43.03V54.01"/><path d="M105.50 60.71H142.10"/><path d="M105.50 55.22V66.20"/><path d="M142.10 55.22V66.20"/><path d="M105.50 72.90H142.40"/><path d="M105.50 67.41V78.39"/><path d="M142.40 67.41V78.39"/><path d="M102.80 85.09H138.90"/><path d="M102.80 79.60V90.58"/><path d="M138.90 79.60V90.58"/><path d="M103.70 97.28H140.10"/><path d="M103.70 91.79V102.77"/><path d="M140.10 91.79V102.77"/><path d="M101.80 109.47H138.30"/><path d="M101.80 103.98V114.96"/><path d="M138.30 103.98V114.96"/><path d="M100.70 121.66H137.80"/><path d="M100.70 116.17V127.15"/><path d="M137.80 116.17V127.15"/><path d="M97.70 133.85H135.10"/><path d="M97.70 128.36V139.34"/><path d="M135.10 128.36V139.34"/><path d="M93.80 146.04H131.10"/><path d="M93.80 140.55V151.53"/><path d="M131.10 140.55V151.53"/><path d="M86.80 158.23H125.60"/><path d="M86.80 152.74V163.72"/><path d="M125.60 152.74V163.72"/><path d="M81.50 170.42H122.10"/><path d="M81.50 164.93V175.91"/><path d="M122.10 164.93V175.91"/><path d="M76.10 182.61H119.70"/><path d="M76.10 177.12V188.10"/><path d="M119.70 177.12V188.10"/><path d="M84.70 194.80H133.30"/><path d="M84.70 189.31V200.29"/><path d="M133.30 189.31V200.29"/></g><g stroke="#1A704F" stroke-opacity="0.33" stroke-width="0.75" fill="none"><path d="M104.80 48.52H141.50"/><path d="M104.80 43.03V54.01"/><path d="M141.50 43.03V54.01"/><path d="M105.10 60.71H141.70"/><path d="M105.10 55.22V66.20"/><path d="M141.70 55.22V66.20"/><path d="M105.10 72.90H142.00"/><path d="M105.10 67.41V78.39"/><path d="M142.00 67.41V78.39"/><path d="M102.40 85.09H138.50"/><path d="M102.40 79.60V90.58"/><path d="M138.50 79.60V90.58"/><path d="M103.30 97.28H139.70"/><path d="M103.30 91.79V102.77"/><path d="M139.70 91.79V102.77"/><path d="M101.40 109.47H137.90"/><path d="M101.40 103.98V114.96"/><path d="M137.90 103.98V114.96"/><path d="M100.30 121.66H137.40"/><path d="M100.30 116.17V127.15"/><path d="M137.40 116.17V127.15"/><path d="M97.30 133.85H134.70"/><path d="M97.30 128.36V139.34"/><path d="M134.70 128.36V139.34"/><path d="M93.40 146.04H130.70"/><path d="M93.40 140.55V151.53"/><path d="M130.70 140.55V151.53"/><path d="M86.40 158.23H125.20"/><path d="M86.40 152.74V163.72"/><path d="M125.20 152.74V163.72"/><path d="M81.10 170.42H121.70"/><path d="M81.10 164.93V175.91"/><path d="M121.70 164.93V175.91"/><path d="M75.70 182.61H119.30"/><path d="M75.70 177.12V188.10"/><path d="M119.30 177.12V188.10"/><path d="M84.30 194.80H132.90"/><path d="M84.30 189.31V200.29"/><path d="M132.90 189.31V200.29"/></g><g fill="#D8337E" fill-opacity="0.7"><circle cx="110.40" cy="48.52" r="1.8"/><circle cx="111.90" cy="60.71" r="1.8"/><circle cx="111.90" cy="72.90" r="1.8"/><circle cx="106.30" cy="85.09" r="1.8"/><circle cx="109.90" cy="97.28" r="1.8"/><circle cx="110.80" cy="109.47" r="1.8"/><circle cx="112.90" cy="121.66" r="1.8"/><circle cx="108.40" cy="133.85" r="1.8"/><circle cx="102.10" cy="146.04" r="1.8"/><circle cx="101.10" cy="158.23" r="1.8"/><circle cx="99.20" cy="170.42" r="1.8"/><circle cx="92.60" cy="182.61" r="1.8"/><circle cx="91.60" cy="194.80" r="1.8"/></g><g fill="#E7BF1A" fill-opacity="0.7"><circle cx="123.50" cy="48.52" r="1.8"/><circle cx="123.80" cy="60.71" r="1.8"/><circle cx="124.20" cy="72.90" r="1.8"/><circle cx="120.80" cy="85.09" r="1.8"/><circle cx="122.00" cy="97.28" r="1.8"/><circle cx="120.00" cy="109.47" r="1.8"/><circle cx="119.30" cy="121.66" r="1.8"/><circle cx="116.40" cy="133.85" r="1.8"/><circle cx="112.30" cy="146.04" r="1.8"/><circle cx="106.40" cy="158.23" r="1.8"/><circle cx="101.90" cy="170.42" r="1.8"/><circle cx="97.70" cy="182.61" r="1.8"/><circle cx="109.00" cy="194.80" r="1.8"/></g><g fill="#1A704F" fill-opacity="0.7"><circle cx="123.20" cy="48.52" r="1.8"/><circle cx="123.50" cy="60.71" r="1.8"/><circle cx="123.90" cy="72.90" r="1.8"/><circle cx="120.50" cy="85.09" r="1.8"/><circle cx="121.70" cy="97.28" r="1.8"/><circle cx="119.70" cy="109.47" r="1.8"/><circle cx="119.00" cy="121.66" r="1.8"/><circle cx="116.10" cy="133.85" r="1.8"/><circle cx="112.00" cy="146.04" r="1.8"/><circle cx="106.10" cy="158.23" r="1.8"/><circle cx="101.60" cy="170.42" r="1.8"/><circle cx="97.40" cy="182.61" r="1.8"/><circle cx="108.70" cy="194.80" r="1.8"/></g></g><g><g stroke="#D8337E" stroke-opacity="0.33" stroke-width="0.75" fill="none"><path d="M229.40 44.98H262.60"/><path d="M229.40 36.89V53.07"/><path d="M262.60 36.89V53.07"/><path d="M226.60 62.96H261.60"/><path d="M226.60 54.87V71.05"/><path d="M261.60 54.87V71.05"/><path d="M230.90 80.94H268.40"/><path d="M230.90 72.85V89.03"/><path d="M268.40 72.85V89.03"/><path d="M240.10 98.92H280.40"/><path d="M240.10 90.83V107.01"/><path d="M280.40 90.83V107.01"/><path d="M250.60 116.90H296.80"/><path d="M250.60 108.81V124.99"/><path d="M296.80 108.81V124.99"/><path d="M237.80 134.88H290.80"/><path d="M237.80 126.79V142.97"/><path d="M290.80 126.79V142.97"/><path d="M230.50 152.86H293.00"/><path d="M230.50 144.77V160.95"/><path d="M293.00 144.77V160.95"/><path d="M238.20 170.84H312.30"/><path d="M238.20 162.75V178.93"/><path d="M312.30 162.75V178.93"/><path d="M235.60 188.82H322.30"/><path d="M235.60 180.73V196.91"/><path d="M322.30 180.73V196.91"/></g><g stroke="#E7BF1A" stroke-opacity="0.33" stroke-width="0.75" fill="none"><path d="M239.70 44.98H273.00"/><path d="M239.70 36.89V53.07"/><path d="M273.00 36.89V53.07"/><path d="M235.90 62.96H271.10"/><path d="M235.90 54.87V71.05"/><path d="M271.10 54.87V71.05"/><path d="M238.70 80.94H276.60"/><path d="M238.70 72.85V89.03"/><path d="M276.60 72.85V89.03"/><path d="M239.50 98.92H281.10"/><path d="M239.50 90.83V107.01"/><path d="M281.10 90.83V107.01"/><path d="M251.40 116.90H297.30"/><path d="M251.40 108.81V124.99"/><path d="M297.30 108.81V124.99"/><path d="M241.90 134.88H295.00"/><path d="M241.90 126.79V142.97"/><path d="M295.00 126.79V142.97"/><path d="M231.50 152.86H293.80"/><path d="M231.50 144.77V160.95"/><path d="M293.80 144.77V160.95"/><path d="M240.20 170.84H314.30"/><path d="M240.20 162.75V178.93"/><path d="M314.30 162.75V178.93"/><path d="M248.80 180.73V196.91"/></g><g stroke="#1A704F" stroke-opacity="0.33" stroke-width="0.75" fill="none"><path d="M244.40 44.98H277.70"/><path d="M244.40 36.89V53.07"/><path d="M277.70 36.89V53.07"/><path d="M239.70 62.96H275.10"/><path d="M239.70 54.87V71.05"/><path d="M275.10 54.87V71.05"/><path d="M241.30 80.94H279.40"/><path d="M241.30 72.85V89.03"/><path d="M279.40 72.85V89.03"/><path d="M238.70 98.92H279.70"/><path d="M238.70 90.83V107.01"/><path d="M279.70 90.83V107.01"/><path d="M245.80 116.90H291.60"/><path d="M245.80 108.81V124.99"/><path d="M291.60 108.81V124.99"/><path d="M241.60 134.88H294.60"/><path d="M241.60 126.79V142.97"/><path d="M294.60 126.79V142.97"/><path d="M227.40 152.86H289.30"/><path d="M227.40 144.77V160.95"/><path d="M289.30 144.77V160.95"/><path d="M237.60 170.84H311.70"/><path d="M237.60 162.75V178.93"/><path d="M311.70 162.75V178.93"/><path d="M258.40 180.73V196.91"/></g><g fill="#D8337E" fill-opacity="0.7"><circle cx="245.90" cy="44.98" r="1.8"/><circle cx="244.00" cy="62.96" r="1.8"/><circle cx="249.70" cy="80.94" r="1.8"/><circle cx="259.60" cy="98.92" r="1.8"/><circle cx="274.00" cy="116.90" r="1.8"/><circle cx="264.50" cy="134.88" r="1.8"/><circle cx="261.90" cy="152.86" r="1.8"/><circle cx="276.10" cy="170.84" r="1.8"/><circle cx="279.00" cy="188.82" r="1.8"/></g><g fill="#E7BF1A" fill-opacity="0.7"><circle cx="256.30" cy="44.98" r="1.8"/><circle cx="253.30" cy="62.96" r="1.8"/><circle cx="257.60" cy="80.94" r="1.8"/><circle cx="261.10" cy="98.92" r="1.8"/><circle cx="274.70" cy="116.90" r="1.8"/><circle cx="269.00" cy="134.88" r="1.8"/><circle cx="263.40" cy="152.86" r="1.8"/><circle cx="277.60" cy="170.84" r="1.8"/><circle cx="292.60" cy="188.82" r="1.8"/></g><g fill="#1A704F" fill-opacity="0.7"><circle cx="260.90" cy="44.98" r="1.8"/><circle cx="257.60" cy="62.96" r="1.8"/><circle cx="260.10" cy="80.94" r="1.8"/><circle cx="258.70" cy="98.92" r="1.8"/><circle cx="268.70" cy="116.90" r="1.8"/><circle cx="268.40" cy="134.88" r="1.8"/><circle cx="258.50" cy="152.86" r="1.8"/><circle cx="275.10" cy="170.84" r="1.8"/><circle cx="302.30" cy="188.82" r="1.8"/></g></g><g><g stroke="#D8337E" stroke-opacity="0.33" stroke-width="0.75" fill="none"><path d="M480.20 42.57H482.00"/><path d="M480.20 40.57V44.56"/><path d="M482.00 40.57V44.56"/><path d="M480.20 47.00H482.00"/><path d="M480.20 45.01V49.00"/><path d="M482.00 45.01V49.00"/><path d="M480.00 51.44H481.80"/><path d="M480.00 49.44V53.44"/><path d="M481.80 49.44V53.44"/><path d="M479.00 55.88H480.80"/><path d="M479.00 53.88V57.87"/><path d="M480.80 53.88V57.87"/><path d="M477.80 60.31H479.60"/><path d="M477.80 58.32V62.31"/><path d="M479.60 58.32V62.31"/><path d="M476.80 64.75H478.60"/><path d="M476.80 62.75V66.74"/><path d="M478.60 62.75V66.74"/><path d="M475.40 69.18H477.20"/><path d="M475.40 67.19V71.18"/><path d="M477.20 67.19V71.18"/><path d="M474.00 73.62H475.80"/><path d="M474.00 71.62V75.62"/><path d="M475.80 71.62V75.62"/><path d="M472.20 78.06H474.00"/><path d="M472.20 76.06V80.05"/><path d="M474.00 76.06V80.05"/><path d="M470.20 82.49H472.00"/><path d="M470.20 80.50V84.49"/><path d="M472.00 80.50V84.49"/><path d="M468.60 86.93H470.40"/><path d="M468.60 84.93V88.92"/><path d="M470.40 84.93V88.92"/><path d="M466.60 91.36H468.40"/><path d="M466.60 89.37V93.36"/><path d="M468.40 89.37V93.36"/><path d="M464.00 95.80H465.80"/><path d="M464.00 93.80V97.80"/><path d="M465.80 93.80V97.80"/><path d="M462.00 100.24H463.80"/><path d="M462.00 98.24V102.23"/><path d="M463.80 98.24V102.23"/><path d="M459.80 104.67H461.60"/><path d="M459.80 102.68V106.67"/><path d="M461.60 102.68V106.67"/><path d="M457.00 109.11H458.80"/><path d="M457.00 107.11V111.10"/><path d="M458.80 107.11V111.10"/><path d="M454.90 113.54H456.70"/><path d="M454.90 111.55V115.54"/><path d="M456.70 111.55V115.54"/><path d="M452.80 117.98H454.60"/><path d="M452.80 115.98V119.98"/><path d="M454.60 115.98V119.98"/><path d="M450.60 122.42H452.40"/><path d="M450.60 120.42V124.41"/><path d="M452.40 120.42V124.41"/><path d="M449.20 126.85H451.00"/><path d="M449.20 124.86V128.85"/><path d="M451.00 124.86V128.85"/><path d="M448.20 131.29H450.00"/><path d="M448.20 129.29V133.28"/><path d="M450.00 129.29V133.28"/><path d="M447.10 135.72H448.90"/><path d="M447.10 133.73V137.72"/><path d="M448.90 133.73V137.72"/><path d="M446.10 140.16H448.50"/><path d="M446.10 138.16V142.16"/><path d="M448.50 138.16V142.16"/><path d="M444.50 144.60H447.70"/><path d="M444.50 142.60V146.59"/><path d="M447.70 142.60V146.59"/><path d="M443.60 149.03H448.00"/><path d="M443.60 147.04V151.03"/><path d="M448.00 147.04V151.03"/><path d="M443.00 153.47H448.00"/><path d="M443.00 151.47V155.46"/><path d="M448.00 151.47V155.46"/><path d="M442.40 157.90H448.00"/><path d="M442.40 155.91V159.90"/><path d="M448.00 155.91V159.90"/><path d="M443.00 162.34H449.00"/><path d="M443.00 160.34V164.34"/><path d="M449.00 160.34V164.34"/><path d="M444.40 166.78H451.20"/><path d="M444.40 164.78V168.77"/><path d="M451.20 164.78V168.77"/><path d="M443.70 171.21H450.90"/><path d="M443.70 169.22V173.21"/><path d="M450.90 169.22V173.21"/><path d="M444.90 175.65H453.70"/><path d="M444.90 173.65V177.64"/><path d="M453.70 173.65V177.64"/><path d="M444.30 180.08H453.90"/><path d="M444.30 178.09V182.08"/><path d="M453.90 178.09V182.08"/><path d="M441.50 184.52H453.50"/><path d="M441.50 182.52V186.52"/><path d="M453.50 182.52V186.52"/><path d="M437.10 188.96H453.90"/><path d="M437.10 186.96V190.95"/><path d="M453.90 186.96V190.95"/><path d="M421.70 193.39H445.30"/><path d="M421.70 191.40V195.39"/><path d="M445.30 191.40V195.39"/><path d="M441.20 197.83H480.40"/><path d="M441.20 195.83V199.82"/><path d="M480.40 195.83V199.82"/><path d="M395.80 202.26H478.80"/><path d="M395.80 200.27V204.26"/><path d="M478.80 200.27V204.26"/></g><g stroke="#E7BF1A" stroke-opacity="0.33" stroke-width="0.75" fill="none"><path d="M494.70 42.57H496.50"/><path d="M494.70 40.57V44.56"/><path d="M496.50 40.57V44.56"/><path d="M494.70 47.00H496.50"/><path d="M494.70 45.01V49.00"/><path d="M496.50 45.01V49.00"/><path d="M494.30 51.44H496.10"/><path d="M494.30 49.44V53.44"/><path d="M496.10 49.44V53.44"/><path d="M493.50 55.88H495.30"/><path d="M493.50 53.88V57.87"/><path d="M495.30 53.88V57.87"/><path d="M492.00 60.31H493.80"/><path d="M492.00 58.32V62.31"/><path d="M493.80 58.32V62.31"/><path d="M490.70 64.75H492.50"/><path d="M490.70 62.75V66.74"/><path d="M492.50 62.75V66.74"/><path d="M489.30 69.18H491.10"/><path d="M489.30 67.19V71.18"/><path d="M491.10 67.19V71.18"/><path d="M487.40 73.62H489.20"/><path d="M487.40 71.62V75.62"/><path d="M489.20 71.62V75.62"/><path d="M485.30 78.06H487.10"/><path d="M485.30 76.06V80.05"/><path d="M487.10 76.06V80.05"/><path d="M483.20 82.49H485.00"/><path d="M483.20 80.50V84.49"/><path d="M485.00 80.50V84.49"/><path d="M480.80 86.93H482.60"/><path d="M480.80 84.93V88.92"/><path d="M482.60 84.93V88.92"/><path d="M478.40 91.36H480.20"/><path d="M478.40 89.37V93.36"/><path d="M480.20 89.37V93.36"/><path d="M475.10 95.80H476.90"/><path d="M475.10 93.80V97.80"/><path d="M476.90 93.80V97.80"/><path d="M472.00 100.24H473.80"/><path d="M472.00 98.24V102.23"/><path d="M473.80 98.24V102.23"/><path d="M469.00 104.67H470.80"/><path d="M469.00 102.68V106.67"/><path d="M470.80 102.68V106.67"/><path d="M465.80 109.11H467.60"/><path d="M465.80 107.11V111.10"/><path d="M467.60 107.11V111.10"/><path d="M463.30 113.54H465.10"/><path d="M463.30 111.55V115.54"/><path d="M465.10 111.55V115.54"/><path d="M460.10 117.98H461.90"/><path d="M460.10 115.98V119.98"/><path d="M461.90 115.98V119.98"/><path d="M457.50 122.42H459.30"/><path d="M457.50 120.42V124.41"/><path d="M459.30 120.42V124.41"/><path d="M455.80 126.85H457.60"/><path d="M455.80 124.86V128.85"/><path d="M457.60 124.86V128.85"/><path d="M454.20 131.29H456.00"/><path d="M454.20 129.29V133.28"/><path d="M456.00 129.29V133.28"/><path d="M452.50 135.72H454.30"/><path d="M452.50 133.73V137.72"/><path d="M454.30 133.73V137.72"/><path d="M450.30 140.16H452.70"/><path d="M450.30 138.16V142.16"/><path d="M452.70 138.16V142.16"/><path d="M448.10 144.60H451.30"/><path d="M448.10 142.60V146.59"/><path d="M451.30 142.60V146.59"/><path d="M446.90 149.03H451.30"/><path d="M446.90 147.04V151.03"/><path d="M451.30 147.04V151.03"/><path d="M445.40 153.47H450.40"/><path d="M445.40 151.47V155.46"/><path d="M450.40 151.47V155.46"/><path d="M445.10 157.90H450.70"/><path d="M445.10 155.91V159.90"/><path d="M450.70 155.91V159.90"/><path d="M445.00 162.34H451.00"/><path d="M445.00 160.34V164.34"/><path d="M451.00 160.34V164.34"/><path d="M444.70 166.78H451.50"/><path d="M444.70 164.78V168.77"/><path d="M451.50 164.78V168.77"/><path d="M443.90 171.21H451.10"/><path d="M443.90 169.22V173.21"/><path d="M451.10 169.22V173.21"/><path d="M443.60 175.65H452.40"/><path d="M443.60 173.65V177.64"/><path d="M452.40 173.65V177.64"/><path d="M444.20 180.08H453.80"/><path d="M444.20 178.09V182.08"/><path d="M453.80 178.09V182.08"/><path d="M440.50 184.52H452.50"/><path d="M440.50 182.52V186.52"/><path d="M452.50 182.52V186.52"/><path d="M433.60 188.96H450.40"/><path d="M433.60 186.96V190.95"/><path d="M450.40 186.96V190.95"/><path d="M420.00 193.39H443.60"/><path d="M420.00 191.40V195.39"/><path d="M443.60 191.40V195.39"/><path d="M430.40 197.83H469.60"/><path d="M430.40 195.83V199.82"/><path d="M469.60 195.83V199.82"/><path d="M400.40 202.26H483.40"/><path d="M400.40 200.27V204.26"/><path d="M483.40 200.27V204.26"/></g><g stroke="#1A704F" stroke-opacity="0.33" stroke-width="0.75" fill="none"><path d="M498.60 42.57H500.40"/><path d="M498.60 40.57V44.56"/><path d="M500.40 40.57V44.56"/><path d="M498.60 47.00H500.40"/><path d="M498.60 45.01V49.00"/><path d="M500.40 45.01V49.00"/><path d="M498.30 51.44H500.10"/><path d="M498.30 49.44V53.44"/><path d="M500.10 49.44V53.44"/><path d="M497.40 55.88H499.20"/><path d="M497.40 53.88V57.87"/><path d="M499.20 53.88V57.87"/><path d="M496.20 60.31H498.00"/><path d="M496.20 58.32V62.31"/><path d="M498.00 58.32V62.31"/><path d="M494.70 64.75H496.50"/><path d="M494.70 62.75V66.74"/><path d="M496.50 62.75V66.74"/><path d="M493.30 69.18H495.10"/><path d="M493.30 67.19V71.18"/><path d="M495.10 67.19V71.18"/><path d="M491.40 73.62H493.20"/><path d="M491.40 71.62V75.62"/><path d="M493.20 71.62V75.62"/><path d="M489.30 78.06H491.10"/><path d="M489.30 76.06V80.05"/><path d="M491.10 76.06V80.05"/><path d="M487.20 82.49H489.00"/><path d="M487.20 80.50V84.49"/><path d="M489.00 80.50V84.49"/><path d="M484.80 86.93H486.60"/><path d="M484.80 84.93V88.92"/><path d="M486.60 84.93V88.92"/><path d="M482.40 91.36H484.20"/><path d="M482.40 89.37V93.36"/><path d="M484.20 89.37V93.36"/><path d="M479.20 95.80H481.00"/><path d="M479.20 93.80V97.80"/><path d="M481.00 93.80V97.80"/><path d="M476.20 100.24H478.00"/><path d="M476.20 98.24V102.23"/><path d="M478.00 98.24V102.23"/><path d="M473.20 104.67H475.00"/><path d="M473.20 102.68V106.67"/><path d="M475.00 102.68V106.67"/><path d="M469.60 109.11H471.40"/><path d="M469.60 107.11V111.10"/><path d="M471.40 107.11V111.10"/><path d="M466.90 113.54H468.70"/><path d="M466.90 111.55V115.54"/><path d="M468.70 111.55V115.54"/><path d="M464.00 117.98H465.80"/><path d="M464.00 115.98V119.98"/><path d="M465.80 115.98V119.98"/><path d="M461.40 122.42H463.20"/><path d="M461.40 120.42V124.41"/><path d="M463.20 120.42V124.41"/><path d="M459.80 126.85H461.60"/><path d="M459.80 124.86V128.85"/><path d="M461.60 124.86V128.85"/><path d="M458.00 131.29H459.80"/><path d="M458.00 129.29V133.28"/><path d="M459.80 129.29V133.28"/><path d="M456.20 135.72H458.00"/><path d="M456.20 133.73V137.72"/><path d="M458.00 133.73V137.72"/><path d="M454.30 140.16H456.70"/><path d="M454.30 138.16V142.16"/><path d="M456.70 138.16V142.16"/><path d="M451.70 144.60H454.90"/><path d="M451.70 142.60V146.59"/><path d="M454.90 142.60V146.59"/><path d="M450.50 149.03H454.90"/><path d="M450.50 147.04V151.03"/><path d="M454.90 147.04V151.03"/><path d="M449.60 153.47H454.60"/><path d="M449.60 151.47V155.46"/><path d="M454.60 151.47V155.46"/><path d="M448.70 157.90H454.30"/><path d="M448.70 155.91V159.90"/><path d="M454.30 155.91V159.90"/><path d="M447.00 162.34H453.00"/><path d="M447.00 160.34V164.34"/><path d="M453.00 160.34V164.34"/><path d="M444.90 166.78H451.70"/><path d="M444.90 164.78V168.77"/><path d="M451.70 164.78V168.77"/><path d="M444.10 171.21H451.30"/><path d="M444.10 169.22V173.21"/><path d="M451.30 169.22V173.21"/><path d="M443.40 175.65H452.20"/><path d="M443.40 173.65V177.64"/><path d="M452.20 173.65V177.64"/><path d="M444.40 180.08H454.00"/><path d="M444.40 178.09V182.08"/><path d="M454.00 178.09V182.08"/><path d="M440.30 184.52H452.30"/><path d="M440.30 182.52V186.52"/><path d="M452.30 182.52V186.52"/><path d="M433.30 188.96H450.10"/><path d="M433.30 186.96V190.95"/><path d="M450.10 186.96V190.95"/><path d="M419.70 193.39H443.30"/><path d="M419.70 191.40V195.39"/><path d="M443.30 191.40V195.39"/><path d="M425.30 197.83H464.50"/><path d="M425.30 195.83V199.82"/><path d="M464.50 195.83V199.82"/><path d="M408.20 202.26H491.20"/><path d="M408.20 200.27V204.26"/><path d="M491.20 200.27V204.26"/></g><g fill="#D8337E" fill-opacity="0.7"><circle cx="481.10" cy="42.57" r="1.8"/><circle cx="481.10" cy="47.00" r="1.8"/><circle cx="480.90" cy="51.44" r="1.8"/><circle cx="479.90" cy="55.88" r="1.8"/><circle cx="478.70" cy="60.31" r="1.8"/><circle cx="477.70" cy="64.75" r="1.8"/><circle cx="476.30" cy="69.18" r="1.8"/><circle cx="474.90" cy="73.62" r="1.8"/><circle cx="473.10" cy="78.06" r="1.8"/><circle cx="471.10" cy="82.49" r="1.8"/><circle cx="469.50" cy="86.93" r="1.8"/><circle cx="467.50" cy="91.36" r="1.8"/><circle cx="464.90" cy="95.80" r="1.8"/><circle cx="462.90" cy="100.24" r="1.8"/><circle cx="460.70" cy="104.67" r="1.8"/><circle cx="457.90" cy="109.11" r="1.8"/><circle cx="455.80" cy="113.54" r="1.8"/><circle cx="453.70" cy="117.98" r="1.8"/><circle cx="451.50" cy="122.42" r="1.8"/><circle cx="450.10" cy="126.85" r="1.8"/><circle cx="449.10" cy="131.29" r="1.8"/><circle cx="448.00" cy="135.72" r="1.8"/><circle cx="447.30" cy="140.16" r="1.8"/><circle cx="446.10" cy="144.60" r="1.8"/><circle cx="445.80" cy="149.03" r="1.8"/><circle cx="445.50" cy="153.47" r="1.8"/><circle cx="445.20" cy="157.90" r="1.8"/><circle cx="446.00" cy="162.34" r="1.8"/><circle cx="447.80" cy="166.78" r="1.8"/><circle cx="447.30" cy="171.21" r="1.8"/><circle cx="449.30" cy="175.65" r="1.8"/><circle cx="449.10" cy="180.08" r="1.8"/><circle cx="447.50" cy="184.52" r="1.8"/><circle cx="445.50" cy="188.96" r="1.8"/><circle cx="433.50" cy="193.39" r="1.8"/><circle cx="460.80" cy="197.83" r="1.8"/><circle cx="437.30" cy="202.26" r="1.8"/></g><g fill="#E7BF1A" fill-opacity="0.7"><circle cx="495.60" cy="42.57" r="1.8"/><circle cx="495.60" cy="47.00" r="1.8"/><circle cx="495.20" cy="51.44" r="1.8"/><circle cx="494.40" cy="55.88" r="1.8"/><circle cx="492.90" cy="60.31" r="1.8"/><circle cx="491.60" cy="64.75" r="1.8"/><circle cx="490.20" cy="69.18" r="1.8"/><circle cx="488.30" cy="73.62" r="1.8"/><circle cx="486.20" cy="78.06" r="1.8"/><circle cx="484.10" cy="82.49" r="1.8"/><circle cx="481.70" cy="86.93" r="1.8"/><circle cx="479.30" cy="91.36" r="1.8"/><circle cx="476.00" cy="95.80" r="1.8"/><circle cx="472.90" cy="100.24" r="1.8"/><circle cx="469.90" cy="104.67" r="1.8"/><circle cx="466.70" cy="109.11" r="1.8"/><circle cx="464.20" cy="113.54" r="1.8"/><circle cx="461.00" cy="117.98" r="1.8"/><circle cx="458.40" cy="122.42" r="1.8"/><circle cx="456.70" cy="126.85" r="1.8"/><circle cx="455.10" cy="131.29" r="1.8"/><circle cx="453.40" cy="135.72" r="1.8"/><circle cx="451.50" cy="140.16" r="1.8"/><circle cx="449.70" cy="144.60" r="1.8"/><circle cx="449.10" cy="149.03" r="1.8"/><circle cx="447.90" cy="153.47" r="1.8"/><circle cx="447.90" cy="157.90" r="1.8"/><circle cx="448.00" cy="162.34" r="1.8"/><circle cx="448.10" cy="166.78" r="1.8"/><circle cx="447.50" cy="171.21" r="1.8"/><circle cx="448.00" cy="175.65" r="1.8"/><circle cx="449.00" cy="180.08" r="1.8"/><circle cx="446.50" cy="184.52" r="1.8"/><circle cx="442.00" cy="188.96" r="1.8"/><circle cx="431.80" cy="193.39" r="1.8"/><circle cx="450.00" cy="197.83" r="1.8"/><circle cx="441.90" cy="202.26" r="1.8"/></g><g fill="#1A704F" fill-opacity="0.7"><circle cx="499.50" cy="42.57" r="1.8"/><circle cx="499.50" cy="47.00" r="1.8"/><circle cx="499.20" cy="51.44" r="1.8"/><circle cx="498.30" cy="55.88" r="1.8"/><circle cx="497.10" cy="60.31" r="1.8"/><circle cx="495.60" cy="64.75" r="1.8"/><circle cx="494.20" cy="69.18" r="1.8"/><circle cx="492.30" cy="73.62" r="1.8"/><circle cx="490.20" cy="78.06" r="1.8"/><circle cx="488.10" cy="82.49" r="1.8"/><circle cx="485.70" cy="86.93" r="1.8"/><circle cx="483.30" cy="91.36" r="1.8"/><circle cx="480.10" cy="95.80" r="1.8"/><circle cx="477.10" cy="100.24" r="1.8"/><circle cx="474.10" cy="104.67" r="1.8"/><circle cx="470.50" cy="109.11" r="1.8"/><circle cx="467.80" cy="113.54" r="1.8"/><circle cx="464.90" cy="117.98" r="1.8"/><circle cx="462.30" cy="122.42" r="1.8"/><circle cx="460.70" cy="126.85" r="1.8"/><circle cx="458.90" cy="131.29" r="1.8"/><circle cx="457.10" cy="135.72" r="1.8"/><circle cx="455.50" cy="140.16" r="1.8"/><circle cx="453.30" cy="144.60" r="1.8"/><circle cx="452.70" cy="149.03" r="1.8"/><circle cx="452.10" cy="153.47" r="1.8"/><circle cx="451.50" cy="157.90" r="1.8"/><circle cx="450.00" cy="162.34" r="1.8"/><circle cx="448.30" cy="166.78" r="1.8"/><circle cx="447.70" cy="171.21" r="1.8"/><circle cx="447.80" cy="175.65" r="1.8"/><circle cx="449.20" cy="180.08" r="1.8"/><circle cx="446.30" cy="184.52" r="1.8"/><circle cx="441.70" cy="188.96" r="1.8"/><circle cx="431.50" cy="193.39" r="1.8"/><circle cx="444.90" cy="197.83" r="1.8"/><circle cx="449.70" cy="202.26" r="1.8"/></g></g><g><g stroke="#D8337E" stroke-opacity="0.33" stroke-width="0.75" fill="none"><path d="M628.90 37.66H644.50"/><path d="M628.90 36.12V39.20"/><path d="M644.50 36.12V39.20"/><path d="M628.70 41.08H644.30"/><path d="M628.70 39.54V42.62"/><path d="M644.30 39.54V42.62"/><path d="M628.40 44.50H644.00"/><path d="M628.40 42.96V46.04"/><path d="M644.00 42.96V46.04"/><path d="M628.10 47.92H643.70"/><path d="M628.10 46.38V49.46"/><path d="M643.70 46.38V49.46"/><path d="M627.80 51.34H643.40"/><path d="M627.80 49.80V52.88"/><path d="M643.40 49.80V52.88"/><path d="M627.40 54.76H643.00"/><path d="M627.40 53.22V56.30"/><path d="M643.00 53.22V56.30"/><path d="M627.10 58.18H642.70"/><path d="M627.10 56.64V59.72"/><path d="M642.70 56.64V59.72"/><path d="M626.80 61.60H642.40"/><path d="M626.80 60.06V63.14"/><path d="M642.40 60.06V63.14"/><path d="M626.00 65.02H642.60"/><path d="M626.00 63.48V66.56"/><path d="M642.60 63.48V66.56"/><path d="M625.40 68.44H642.00"/><path d="M625.40 66.90V69.98"/><path d="M642.00 66.90V69.98"/><path d="M624.80 71.86H641.40"/><path d="M624.80 70.32V73.40"/><path d="M641.40 70.32V73.40"/><path d="M622.70 75.28H639.30"/><path d="M622.70 73.74V76.82"/><path d="M639.30 73.74V76.82"/><path d="M621.20 78.70H637.80"/><path d="M621.20 77.16V80.24"/><path d="M637.80 77.16V80.24"/><path d="M619.60 82.12H636.20"/><path d="M619.60 80.58V83.66"/><path d="M636.20 80.58V83.66"/><path d="M617.90 85.54H634.50"/><path d="M617.90 84.00V87.08"/><path d="M634.50 84.00V87.08"/><path d="M615.20 88.96H631.80"/><path d="M615.20 87.42V90.50"/><path d="M631.80 87.42V90.50"/><path d="M612.70 92.38H631.10"/><path d="M612.70 90.84V93.92"/><path d="M631.10 90.84V93.92"/><path d="M611.80 95.80H630.20"/><path d="M611.80 94.26V97.34"/><path d="M630.20 94.26V97.34"/><path d="M611.10 99.22H629.50"/><path d="M611.10 97.68V100.76"/><path d="M629.50 97.68V100.76"/><path d="M610.30 102.64H628.70"/><path d="M610.30 101.10V104.18"/><path d="M628.70 101.10V104.18"/><path d="M609.70 106.06H628.10"/><path d="M609.70 104.52V107.60"/><path d="M628.10 104.52V107.60"/><path d="M609.40 109.48H627.80"/><path d="M609.40 107.94V111.02"/><path d="M627.80 107.94V111.02"/><path d="M610.80 112.90H629.20"/><path d="M610.80 111.36V114.44"/><path d="M629.20 111.36V114.44"/><path d="M608.90 116.32H633.90"/><path d="M608.90 114.78V117.86"/><path d="M633.90 114.78V117.86"/><path d="M617.60 119.74H642.60"/><path d="M617.60 118.20V121.28"/><path d="M642.60 118.20V121.28"/><path d="M623.90 123.16H648.90"/><path d="M623.90 121.62V124.70"/><path d="M648.90 121.62V124.70"/><path d="M625.80 126.58H650.80"/><path d="M625.80 125.04V128.12"/><path d="M650.80 125.04V128.12"/><path d="M627.70 130.00H652.70"/><path d="M627.70 128.46V131.54"/><path d="M652.70 128.46V131.54"/><path d="M626.40 133.42H655.40"/><path d="M626.40 131.88V134.96"/><path d="M655.40 131.88V134.96"/><path d="M626.90 136.84H655.90"/><path d="M626.90 135.30V138.38"/><path d="M655.90 135.30V138.38"/><path d="M630.20 140.26H659.20"/><path d="M630.20 138.72V141.80"/><path d="M659.20 138.72V141.80"/><path d="M633.20 143.68H662.20"/><path d="M633.20 142.14V145.22"/><path d="M662.20 142.14V145.22"/><path d="M626.90 147.10H664.90"/><path d="M626.90 145.56V148.64"/><path d="M664.90 145.56V148.64"/><path d="M621.00 150.52H659.00"/><path d="M621.00 148.98V152.06"/><path d="M659.00 148.98V152.06"/><path d="M613.40 153.94H651.40"/><path d="M613.40 152.40V155.48"/><path d="M651.40 152.40V155.48"/><path d="M604.30 157.36H646.30"/><path d="M604.30 155.82V158.90"/><path d="M646.30 155.82V158.90"/><path d="M601.60 160.78H643.60"/><path d="M601.60 159.24V162.32"/><path d="M643.60 159.24V162.32"/><path d="M603.10 164.20H645.10"/><path d="M603.10 162.66V165.74"/><path d="M645.10 162.66V165.74"/><path d="M600.10 167.62H642.10"/><path d="M600.10 166.08V169.16"/><path d="M642.10 166.08V169.16"/><path d="M600.10 171.04H642.10"/><path d="M600.10 169.50V172.58"/><path d="M642.10 169.50V172.58"/><path d="M590.60 174.46H644.20"/><path d="M590.60 172.92V176.00"/><path d="M644.20 172.92V176.00"/><path d="M586.00 177.88H639.60"/><path d="M586.00 176.34V179.42"/><path d="M639.60 176.34V179.42"/><path d="M586.00 181.30H639.60"/><path d="M586.00 179.76V182.84"/><path d="M639.60 179.76V182.84"/><path d="M589.70 184.72H643.30"/><path d="M589.70 183.18V186.26"/><path d="M643.30 183.18V186.26"/><path d="M575.60 188.14H634.00"/><path d="M575.60 186.60V189.68"/><path d="M634.00 186.60V189.68"/><path d="M572.70 191.56H634.70"/><path d="M572.70 190.02V193.10"/><path d="M634.70 190.02V193.10"/><path d="M572.70 194.98H635.30"/><path d="M572.70 193.44V196.52"/><path d="M635.30 193.44V196.52"/><path d="M579.30 198.40H646.90"/><path d="M579.30 196.86V199.94"/><path d="M646.90 196.86V199.94"/><path d="M573.90 201.82H645.90"/><path d="M573.90 200.28V203.36"/><path d="M645.90 200.28V203.36"/><path d="M581.60 205.24H657.60"/><path d="M581.60 203.70V206.78"/><path d="M657.60 203.70V206.78"/></g><g stroke="#E7BF1A" stroke-opacity="0.33" stroke-width="0.75" fill="none"><path d="M633.10 37.66H648.70"/><path d="M633.10 36.12V39.20"/><path d="M648.70 36.12V39.20"/><path d="M632.80 41.08H648.40"/><path d="M632.80 39.54V42.62"/><path d="M648.40 39.54V42.62"/><path d="M632.60 44.50H648.20"/><path d="M632.60 42.96V46.04"/><path d="M648.20 42.96V46.04"/><path d="M632.30 47.92H647.90"/><path d="M632.30 46.38V49.46"/><path d="M647.90 46.38V49.46"/><path d="M632.00 51.34H647.60"/><path d="M632.00 49.80V52.88"/><path d="M647.60 49.80V52.88"/><path d="M631.70 54.76H647.30"/><path d="M631.70 53.22V56.30"/><path d="M647.30 53.22V56.30"/><path d="M631.50 58.18H647.10"/><path d="M631.50 56.64V59.72"/><path d="M647.10 56.64V59.72"/><path d="M631.30 61.60H646.90"/><path d="M631.30 60.06V63.14"/><path d="M646.90 60.06V63.14"/><path d="M630.40 65.02H647.00"/><path d="M630.40 63.48V66.56"/><path d="M647.00 63.48V66.56"/><path d="M630.00 68.44H646.60"/><path d="M630.00 66.90V69.98"/><path d="M646.60 66.90V69.98"/><path d="M629.20 71.86H645.80"/><path d="M629.20 70.32V73.40"/><path d="M645.80 70.32V73.40"/><path d="M627.50 75.28H644.10"/><path d="M627.50 73.74V76.82"/><path d="M644.10 73.74V76.82"/><path d="M626.30 78.70H642.90"/><path d="M626.30 77.16V80.24"/><path d="M642.90 77.16V80.24"/><path d="M625.10 82.12H641.70"/><path d="M625.10 80.58V83.66"/><path d="M641.70 80.58V83.66"/><path d="M623.20 85.54H639.80"/><path d="M623.20 84.00V87.08"/><path d="M639.80 84.00V87.08"/><path d="M620.50 88.96H637.10"/><path d="M620.50 87.42V90.50"/><path d="M637.10 87.42V90.50"/><path d="M618.30 92.38H636.30"/><path d="M618.30 90.84V93.92"/><path d="M636.30 90.84V93.92"/><path d="M617.30 95.80H635.30"/><path d="M617.30 94.26V97.34"/><path d="M635.30 94.26V97.34"/><path d="M616.50 99.22H634.50"/><path d="M616.50 97.68V100.76"/><path d="M634.50 97.68V100.76"/><path d="M615.60 102.64H633.60"/><path d="M615.60 101.10V104.18"/><path d="M633.60 101.10V104.18"/><path d="M615.60 106.06H633.60"/><path d="M615.60 104.52V107.60"/><path d="M633.60 104.52V107.60"/><path d="M615.90 109.48H633.90"/><path d="M615.90 107.94V111.02"/><path d="M633.90 107.94V111.02"/><path d="M617.80 112.90H635.80"/><path d="M617.80 111.36V114.44"/><path d="M635.80 111.36V114.44"/><path d="M615.40 116.32H639.40"/><path d="M615.40 114.78V117.86"/><path d="M639.40 114.78V117.86"/><path d="M624.80 119.74H648.80"/><path d="M624.80 118.20V121.28"/><path d="M648.80 118.20V121.28"/><path d="M632.40 123.16H656.40"/><path d="M632.40 121.62V124.70"/><path d="M656.40 121.62V124.70"/><path d="M634.50 126.58H658.50"/><path d="M634.50 125.04V128.12"/><path d="M658.50 125.04V128.12"/><path d="M634.90 130.00H658.90"/><path d="M634.90 128.46V131.54"/><path d="M658.90 128.46V131.54"/><path d="M632.90 133.42H660.90"/><path d="M632.90 131.88V134.96"/><path d="M660.90 131.88V134.96"/><path d="M632.90 136.84H660.90"/><path d="M632.90 135.30V138.38"/><path d="M660.90 135.30V138.38"/><path d="M633.50 140.26H661.50"/><path d="M633.50 138.72V141.80"/><path d="M661.50 138.72V141.80"/><path d="M639.70 143.68H667.70"/><path d="M639.70 142.14V145.22"/><path d="M667.70 142.14V145.22"/><path d="M632.20 147.10H668.20"/><path d="M632.20 145.56V148.64"/><path d="M668.20 145.56V148.64"/><path d="M626.00 150.52H662.00"/><path d="M626.00 148.98V152.06"/><path d="M662.00 148.98V152.06"/><path d="M620.00 153.94H656.00"/><path d="M620.00 152.40V155.48"/><path d="M656.00 152.40V155.48"/><path d="M608.80 157.36H650.80"/><path d="M608.80 155.82V158.90"/><path d="M650.80 155.82V158.90"/><path d="M604.90 160.78H646.90"/><path d="M604.90 159.24V162.32"/><path d="M646.90 159.24V162.32"/><path d="M604.90 164.20H646.90"/><path d="M604.90 162.66V165.74"/><path d="M646.90 162.66V165.74"/><path d="M601.90 167.62H643.90"/><path d="M601.90 166.08V169.16"/><path d="M643.90 166.08V169.16"/><path d="M601.90 171.04H643.90"/><path d="M601.90 169.50V172.58"/><path d="M643.90 169.50V172.58"/><path d="M592.40 174.46H645.40"/><path d="M592.40 172.92V176.00"/><path d="M645.40 172.92V176.00"/><path d="M587.90 177.88H640.90"/><path d="M587.90 176.34V179.42"/><path d="M640.90 176.34V179.42"/><path d="M587.90 181.30H640.90"/><path d="M587.90 179.76V182.84"/><path d="M640.90 179.76V182.84"/><path d="M591.00 184.72H644.00"/><path d="M591.00 183.18V186.26"/><path d="M644.00 183.18V186.26"/><path d="M579.10 188.14H637.90"/><path d="M579.10 186.60V189.68"/><path d="M637.90 186.60V189.68"/><path d="M573.80 191.56H635.80"/><path d="M573.80 190.02V193.10"/><path d="M635.80 190.02V193.10"/><path d="M573.80 194.98H636.40"/><path d="M573.80 193.44V196.52"/><path d="M636.40 193.44V196.52"/><path d="M579.30 198.40H646.90"/><path d="M579.30 196.86V199.94"/><path d="M646.90 196.86V199.94"/><path d="M575.20 201.82H647.20"/><path d="M575.20 200.28V203.36"/><path d="M647.20 200.28V203.36"/><path d="M580.40 205.24H656.40"/><path d="M580.40 203.70V206.78"/><path d="M656.40 203.70V206.78"/></g><g stroke="#1A704F" stroke-opacity="0.33" stroke-width="0.75" fill="none"><path d="M654.00 37.66H667.60"/><path d="M654.00 36.12V39.20"/><path d="M667.60 36.12V39.20"/><path d="M653.70 41.08H667.30"/><path d="M653.70 39.54V42.62"/><path d="M667.30 39.54V42.62"/><path d="M653.40 44.50H667.00"/><path d="M653.40 42.96V46.04"/><path d="M667.00 42.96V46.04"/><path d="M653.10 47.92H666.70"/><path d="M653.10 46.38V49.46"/><path d="M666.70 46.38V49.46"/><path d="M652.80 51.34H666.40"/><path d="M652.80 49.80V52.88"/><path d="M666.40 49.80V52.88"/><path d="M652.50 54.76H666.10"/><path d="M652.50 53.22V56.30"/><path d="M666.10 53.22V56.30"/><path d="M652.20 58.18H665.80"/><path d="M652.20 56.64V59.72"/><path d="M665.80 56.64V59.72"/><path d="M651.90 61.60H665.50"/><path d="M651.90 60.06V63.14"/><path d="M665.50 60.06V63.14"/><path d="M650.80 65.02H665.80"/><path d="M650.80 63.48V66.56"/><path d="M665.80 63.48V66.56"/><path d="M650.50 68.44H665.50"/><path d="M650.50 66.90V69.98"/><path d="M665.50 66.90V69.98"/><path d="M650.00 71.86H665.00"/><path d="M650.00 70.32V73.40"/><path d="M665.00 70.32V73.40"/><path d="M649.60 75.28H664.60"/><path d="M649.60 73.74V76.82"/><path d="M664.60 73.74V76.82"/><path d="M649.00 78.70H664.00"/><path d="M649.00 77.16V80.24"/><path d="M664.00 77.16V80.24"/><path d="M647.80 82.12H662.80"/><path d="M647.80 80.58V83.66"/><path d="M662.80 80.58V83.66"/><path d="M646.90 85.54H661.90"/><path d="M646.90 84.00V87.08"/><path d="M661.90 84.00V87.08"/><path d="M646.30 88.96H661.30"/><path d="M646.30 87.42V90.50"/><path d="M661.30 87.42V90.50"/><path d="M643.80 92.38H661.80"/><path d="M643.80 90.84V93.92"/><path d="M661.80 90.84V93.92"/><path d="M643.30 95.80H661.30"/><path d="M643.30 94.26V97.34"/><path d="M661.30 94.26V97.34"/><path d="M642.60 99.22H660.60"/><path d="M642.60 97.68V100.76"/><path d="M660.60 97.68V100.76"/><path d="M642.10 102.64H660.10"/><path d="M642.10 101.10V104.18"/><path d="M660.10 101.10V104.18"/><path d="M641.80 106.06H659.80"/><path d="M641.80 104.52V107.60"/><path d="M659.80 104.52V107.60"/><path d="M640.50 109.48H658.50"/><path d="M640.50 107.94V111.02"/><path d="M658.50 107.94V111.02"/><path d="M643.30 112.90H661.30"/><path d="M643.30 111.36V114.44"/><path d="M661.30 111.36V114.44"/><path d="M636.80 116.32H660.80"/><path d="M636.80 114.78V117.86"/><path d="M660.80 114.78V117.86"/><path d="M642.40 119.74H666.40"/><path d="M642.40 118.20V121.28"/><path d="M666.40 118.20V121.28"/><path d="M643.90 123.16H667.90"/><path d="M643.90 121.62V124.70"/><path d="M667.90 121.62V124.70"/><path d="M643.90 126.58H667.90"/><path d="M643.90 125.04V128.12"/><path d="M667.90 125.04V128.12"/><path d="M643.90 130.00H667.90"/><path d="M643.90 128.46V131.54"/><path d="M667.90 128.46V131.54"/><path d="M637.40 133.42H665.40"/><path d="M637.40 131.88V134.96"/><path d="M665.40 131.88V134.96"/><path d="M637.00 136.84H665.00"/><path d="M637.00 135.30V138.38"/><path d="M665.00 135.30V138.38"/><path d="M636.40 140.26H664.40"/><path d="M636.40 138.72V141.80"/><path d="M664.40 138.72V141.80"/><path d="M641.20 143.68H669.20"/><path d="M641.20 142.14V145.22"/><path d="M669.20 142.14V145.22"/><path d="M631.40 147.10H666.40"/><path d="M631.40 145.56V148.64"/><path d="M666.40 145.56V148.64"/><path d="M627.10 150.52H662.10"/><path d="M627.10 148.98V152.06"/><path d="M662.10 148.98V152.06"/><path d="M628.00 153.94H663.00"/><path d="M628.00 152.40V155.48"/><path d="M663.00 152.40V155.48"/><path d="M618.00 157.36H658.00"/><path d="M618.00 155.82V158.90"/><path d="M658.00 155.82V158.90"/><path d="M612.10 160.78H652.10"/><path d="M612.10 159.24V162.32"/><path d="M652.10 159.24V162.32"/><path d="M613.90 164.20H653.90"/><path d="M613.90 162.66V165.74"/><path d="M653.90 162.66V165.74"/><path d="M607.90 167.62H647.90"/><path d="M607.90 166.08V169.16"/><path d="M647.90 166.08V169.16"/><path d="M606.80 171.04H646.80"/><path d="M606.80 169.50V172.58"/><path d="M646.80 169.50V172.58"/><path d="M597.90 174.46H650.90"/><path d="M597.90 172.92V176.00"/><path d="M650.90 172.92V176.00"/><path d="M591.90 177.88H644.90"/><path d="M591.90 176.34V179.42"/><path d="M644.90 176.34V179.42"/><path d="M593.50 181.30H646.50"/><path d="M593.50 179.76V182.84"/><path d="M646.50 179.76V182.84"/><path d="M593.20 184.72H646.20"/><path d="M593.20 183.18V186.26"/><path d="M646.20 183.18V186.26"/><path d="M599.80 188.14H658.60"/><path d="M599.80 186.60V189.68"/><path d="M658.60 186.60V189.68"/><path d="M587.00 191.56H650.60"/><path d="M587.00 190.02V193.10"/><path d="M650.60 190.02V193.10"/><path d="M582.40 194.98H649.00"/><path d="M582.40 193.44V196.52"/><path d="M649.00 193.44V196.52"/><path d="M578.60 198.40H647.60"/><path d="M578.60 196.86V199.94"/><path d="M647.60 196.86V199.94"/><path d="M570.40 201.82H642.40"/><path d="M570.40 200.28V203.36"/><path d="M642.40 200.28V203.36"/><path d="M566.40 205.24H639.00"/><path d="M566.40 203.70V206.78"/><path d="M639.00 203.70V206.78"/></g><g fill="#D8337E" fill-opacity="0.7"><circle cx="636.70" cy="37.66" r="1.8"/><circle cx="636.50" cy="41.08" r="1.8"/><circle cx="636.20" cy="44.50" r="1.8"/><circle cx="635.90" cy="47.92" r="1.8"/><circle cx="635.60" cy="51.34" r="1.8"/><circle cx="635.20" cy="54.76" r="1.8"/><circle cx="634.90" cy="58.18" r="1.8"/><circle cx="634.60" cy="61.60" r="1.8"/><circle cx="634.30" cy="65.02" r="1.8"/><circle cx="633.70" cy="68.44" r="1.8"/><circle cx="633.10" cy="71.86" r="1.8"/><circle cx="631.00" cy="75.28" r="1.8"/><circle cx="629.50" cy="78.70" r="1.8"/><circle cx="627.90" cy="82.12" r="1.8"/><circle cx="626.20" cy="85.54" r="1.8"/><circle cx="623.50" cy="88.96" r="1.8"/><circle cx="621.90" cy="92.38" r="1.8"/><circle cx="621.00" cy="95.80" r="1.8"/><circle cx="620.30" cy="99.22" r="1.8"/><circle cx="619.50" cy="102.64" r="1.8"/><circle cx="618.90" cy="106.06" r="1.8"/><circle cx="618.60" cy="109.48" r="1.8"/><circle cx="620.00" cy="112.90" r="1.8"/><circle cx="621.40" cy="116.32" r="1.8"/><circle cx="630.10" cy="119.74" r="1.8"/><circle cx="636.40" cy="123.16" r="1.8"/><circle cx="638.30" cy="126.58" r="1.8"/><circle cx="640.20" cy="130.00" r="1.8"/><circle cx="640.90" cy="133.42" r="1.8"/><circle cx="641.40" cy="136.84" r="1.8"/><circle cx="644.70" cy="140.26" r="1.8"/><circle cx="647.70" cy="143.68" r="1.8"/><circle cx="645.90" cy="147.10" r="1.8"/><circle cx="640.00" cy="150.52" r="1.8"/><circle cx="632.40" cy="153.94" r="1.8"/><circle cx="625.30" cy="157.36" r="1.8"/><circle cx="622.60" cy="160.78" r="1.8"/><circle cx="624.10" cy="164.20" r="1.8"/><circle cx="621.10" cy="167.62" r="1.8"/><circle cx="621.10" cy="171.04" r="1.8"/><circle cx="617.40" cy="174.46" r="1.8"/><circle cx="612.80" cy="177.88" r="1.8"/><circle cx="612.80" cy="181.30" r="1.8"/><circle cx="616.50" cy="184.72" r="1.8"/><circle cx="604.80" cy="188.14" r="1.8"/><circle cx="603.70" cy="191.56" r="1.8"/><circle cx="604.00" cy="194.98" r="1.8"/><circle cx="613.10" cy="198.40" r="1.8"/><circle cx="609.90" cy="201.82" r="1.8"/><circle cx="619.60" cy="205.24" r="1.8"/></g><g fill="#E7BF1A" fill-opacity="0.7"><circle cx="640.90" cy="37.66" r="1.8"/><circle cx="640.60" cy="41.08" r="1.8"/><circle cx="640.40" cy="44.50" r="1.8"/><circle cx="640.10" cy="47.92" r="1.8"/><circle cx="639.80" cy="51.34" r="1.8"/><circle cx="639.50" cy="54.76" r="1.8"/><circle cx="639.30" cy="58.18" r="1.8"/><circle cx="639.10" cy="61.60" r="1.8"/><circle cx="638.70" cy="65.02" r="1.8"/><circle cx="638.30" cy="68.44" r="1.8"/><circle cx="637.50" cy="71.86" r="1.8"/><circle cx="635.80" cy="75.28" r="1.8"/><circle cx="634.60" cy="78.70" r="1.8"/><circle cx="633.40" cy="82.12" r="1.8"/><circle cx="631.50" cy="85.54" r="1.8"/><circle cx="628.80" cy="88.96" r="1.8"/><circle cx="627.30" cy="92.38" r="1.8"/><circle cx="626.30" cy="95.80" r="1.8"/><circle cx="625.50" cy="99.22" r="1.8"/><circle cx="624.60" cy="102.64" r="1.8"/><circle cx="624.60" cy="106.06" r="1.8"/><circle cx="624.90" cy="109.48" r="1.8"/><circle cx="626.80" cy="112.90" r="1.8"/><circle cx="627.40" cy="116.32" r="1.8"/><circle cx="636.80" cy="119.74" r="1.8"/><circle cx="644.40" cy="123.16" r="1.8"/><circle cx="646.50" cy="126.58" r="1.8"/><circle cx="646.90" cy="130.00" r="1.8"/><circle cx="646.90" cy="133.42" r="1.8"/><circle cx="646.90" cy="136.84" r="1.8"/><circle cx="647.50" cy="140.26" r="1.8"/><circle cx="653.70" cy="143.68" r="1.8"/><circle cx="650.20" cy="147.10" r="1.8"/><circle cx="644.00" cy="150.52" r="1.8"/><circle cx="638.00" cy="153.94" r="1.8"/><circle cx="629.80" cy="157.36" r="1.8"/><circle cx="625.90" cy="160.78" r="1.8"/><circle cx="625.90" cy="164.20" r="1.8"/><circle cx="622.90" cy="167.62" r="1.8"/><circle cx="622.90" cy="171.04" r="1.8"/><circle cx="618.90" cy="174.46" r="1.8"/><circle cx="614.40" cy="177.88" r="1.8"/><circle cx="614.40" cy="181.30" r="1.8"/><circle cx="617.50" cy="184.72" r="1.8"/><circle cx="608.50" cy="188.14" r="1.8"/><circle cx="604.80" cy="191.56" r="1.8"/><circle cx="605.10" cy="194.98" r="1.8"/><circle cx="613.10" cy="198.40" r="1.8"/><circle cx="611.20" cy="201.82" r="1.8"/><circle cx="618.40" cy="205.24" r="1.8"/></g><g fill="#1A704F" fill-opacity="0.7"><circle cx="660.80" cy="37.66" r="1.8"/><circle cx="660.50" cy="41.08" r="1.8"/><circle cx="660.20" cy="44.50" r="1.8"/><circle cx="659.90" cy="47.92" r="1.8"/><circle cx="659.60" cy="51.34" r="1.8"/><circle cx="659.30" cy="54.76" r="1.8"/><circle cx="659.00" cy="58.18" r="1.8"/><circle cx="658.70" cy="61.60" r="1.8"/><circle cx="658.30" cy="65.02" r="1.8"/><circle cx="658.00" cy="68.44" r="1.8"/><circle cx="657.50" cy="71.86" r="1.8"/><circle cx="657.10" cy="75.28" r="1.8"/><circle cx="656.50" cy="78.70" r="1.8"/><circle cx="655.30" cy="82.12" r="1.8"/><circle cx="654.40" cy="85.54" r="1.8"/><circle cx="653.80" cy="88.96" r="1.8"/><circle cx="652.80" cy="92.38" r="1.8"/><circle cx="652.30" cy="95.80" r="1.8"/><circle cx="651.60" cy="99.22" r="1.8"/><circle cx="651.10" cy="102.64" r="1.8"/><circle cx="650.80" cy="106.06" r="1.8"/><circle cx="649.50" cy="109.48" r="1.8"/><circle cx="652.30" cy="112.90" r="1.8"/><circle cx="648.80" cy="116.32" r="1.8"/><circle cx="654.40" cy="119.74" r="1.8"/><circle cx="655.90" cy="123.16" r="1.8"/><circle cx="655.90" cy="126.58" r="1.8"/><circle cx="655.90" cy="130.00" r="1.8"/><circle cx="651.40" cy="133.42" r="1.8"/><circle cx="651.00" cy="136.84" r="1.8"/><circle cx="650.40" cy="140.26" r="1.8"/><circle cx="655.20" cy="143.68" r="1.8"/><circle cx="648.90" cy="147.10" r="1.8"/><circle cx="644.60" cy="150.52" r="1.8"/><circle cx="645.50" cy="153.94" r="1.8"/><circle cx="638.00" cy="157.36" r="1.8"/><circle cx="632.10" cy="160.78" r="1.8"/><circle cx="633.90" cy="164.20" r="1.8"/><circle cx="627.90" cy="167.62" r="1.8"/><circle cx="626.80" cy="171.04" r="1.8"/><circle cx="624.40" cy="174.46" r="1.8"/><circle cx="618.40" cy="177.88" r="1.8"/><circle cx="620.00" cy="181.30" r="1.8"/><circle cx="619.70" cy="184.72" r="1.8"/><circle cx="629.20" cy="188.14" r="1.8"/><circle cx="618.80" cy="191.56" r="1.8"/><circle cx="615.70" cy="194.98" r="1.8"/><circle cx="613.10" cy="198.40" r="1.8"/><circle cx="606.40" cy="201.82" r="1.8"/><circle cx="602.70" cy="205.24" r="1.8"/></g></g><line x1="79.50" y1="27.80" x2="79.50" y2="215.00" stroke="#B5B5B5" stroke-width="0.9"/><line x1="260.60" y1="27.70" x2="260.60" y2="215.00" stroke="#B5B5B5" stroke-width="0.9"/><line x1="445.70" y1="28.20" x2="445.70" y2="215.00" stroke="#B5B5B5" stroke-width="0.9"/><line x1="618.70" y1="27.70" x2="618.70" y2="215.00" stroke="#B5B5B5" stroke-width="0.9"/><text x="222.40" y="264.90" font-size="8.85" fill="#000" font-weight="normal" text-anchor="start">Measure</text><line x1="262.70" y1="262.30" x2="273.70" y2="262.30" stroke="#D8337E" stroke-width="0.9" stroke-opacity="0.33"/><circle cx="268.20" cy="262.3" r="1.8" fill="#D8337E" fill-opacity="0.7"/><text x="280.00" y="264.60" font-size="7.05" fill="#000" font-weight="normal" text-anchor="start">Difference score</text><line x1="339.20" y1="262.30" x2="350.20" y2="262.30" stroke="#E7BF1A" stroke-width="0.9" stroke-opacity="0.33"/><circle cx="344.70" cy="262.3" r="1.8" fill="#E7BF1A" fill-opacity="0.7"/><text x="356.50" y="264.60" font-size="7.05" fill="#000" font-weight="normal" text-anchor="start">Ratio score</text><line x1="399.50" y1="262.30" x2="410.50" y2="262.30" stroke="#1A704F" stroke-width="0.9" stroke-opacity="0.33"/><circle cx="405.00" cy="262.3" r="1.8" fill="#1A704F" fill-opacity="0.7"/><text x="416.80" y="264.60" font-size="7.05" fill="#000" font-weight="normal" text-anchor="start">Residual score</text></g></svg>
</body></html>
